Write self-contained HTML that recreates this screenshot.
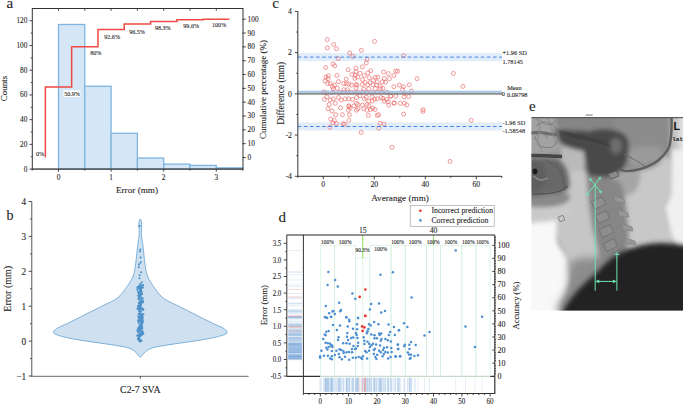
<!DOCTYPE html>
<html><head><meta charset="utf-8"><style>
html,body{margin:0;padding:0;background:#fff;width:685px;height:405px;overflow:hidden;}
svg{display:block;font-family:"Liberation Serif",serif;}
svg text{stroke:#333;stroke-width:0.1px;}
</style></head><body>
<svg width="685" height="405" viewBox="0 0 685 405">
<rect width="685" height="405" fill="#fff"/>
<rect x="58.50" y="24.49" width="26.30" height="144.61" fill="#d5e7f6" stroke="#7fb5de" stroke-width="1.3" /><rect x="84.80" y="86.29" width="26.30" height="82.81" fill="#d5e7f6" stroke="#7fb5de" stroke-width="1.3" /><rect x="111.10" y="133.26" width="26.30" height="35.84" fill="#d5e7f6" stroke="#7fb5de" stroke-width="1.3" /><rect x="137.40" y="157.98" width="26.30" height="11.12" fill="#d5e7f6" stroke="#7fb5de" stroke-width="1.3" /><rect x="163.70" y="164.16" width="26.30" height="4.94" fill="#d5e7f6" stroke="#7fb5de" stroke-width="1.3" /><rect x="190.00" y="165.39" width="26.30" height="3.71" fill="#d5e7f6" stroke="#7fb5de" stroke-width="1.3" /><rect x="216.30" y="167.86" width="26.30" height="1.24" fill="#d5e7f6" stroke="#7fb5de" stroke-width="1.3" /><path d="M45.35,157.50 L45.35,87.11 L71.65,87.11 L71.65,46.86 L97.95,46.86 L97.95,29.43 L124.25,29.43 L124.25,24.04 L150.55,24.04 L150.55,21.55 L176.85,21.55 L176.85,19.75 L203.15,19.75 L203.15,19.20 L229.45,19.20" fill="none" stroke="#ee4a43" stroke-width="1.5"/><rect x="32.30" y="8.50" width="210.70" height="160.60" fill="none" stroke="#333" stroke-width="1" /><line x1="31.70" y1="169.10" x2="243.60" y2="169.10" stroke="#5e5e5e" stroke-width="1.3" /><line x1="29.50" y1="169.10" x2="32.30" y2="169.10" stroke="#333" stroke-width="0.9" /><text x="27.40" y="171.58" font-size="7.3" text-anchor="end" fill="#222" font-family="Liberation Serif" font-weight="normal" >0</text><line x1="30.70" y1="156.74" x2="32.30" y2="156.74" stroke="#333" stroke-width="0.9" /><line x1="29.50" y1="144.38" x2="32.30" y2="144.38" stroke="#333" stroke-width="0.9" /><text x="27.40" y="146.86" font-size="7.3" text-anchor="end" fill="#222" font-family="Liberation Serif" font-weight="normal" >20</text><line x1="30.70" y1="132.02" x2="32.30" y2="132.02" stroke="#333" stroke-width="0.9" /><line x1="29.50" y1="119.66" x2="32.30" y2="119.66" stroke="#333" stroke-width="0.9" /><text x="27.40" y="122.14" font-size="7.3" text-anchor="end" fill="#222" font-family="Liberation Serif" font-weight="normal" >40</text><line x1="30.70" y1="107.30" x2="32.30" y2="107.30" stroke="#333" stroke-width="0.9" /><line x1="29.50" y1="94.94" x2="32.30" y2="94.94" stroke="#333" stroke-width="0.9" /><text x="27.40" y="97.42" font-size="7.3" text-anchor="end" fill="#222" font-family="Liberation Serif" font-weight="normal" >60</text><line x1="30.70" y1="82.58" x2="32.30" y2="82.58" stroke="#333" stroke-width="0.9" /><line x1="29.50" y1="70.22" x2="32.30" y2="70.22" stroke="#333" stroke-width="0.9" /><text x="27.40" y="72.70" font-size="7.3" text-anchor="end" fill="#222" font-family="Liberation Serif" font-weight="normal" >80</text><line x1="30.70" y1="57.86" x2="32.30" y2="57.86" stroke="#333" stroke-width="0.9" /><line x1="29.50" y1="45.50" x2="32.30" y2="45.50" stroke="#333" stroke-width="0.9" /><text x="27.40" y="47.98" font-size="7.3" text-anchor="end" fill="#222" font-family="Liberation Serif" font-weight="normal" >100</text><line x1="30.70" y1="33.14" x2="32.30" y2="33.14" stroke="#333" stroke-width="0.9" /><line x1="29.50" y1="20.78" x2="32.30" y2="20.78" stroke="#333" stroke-width="0.9" /><text x="27.40" y="23.26" font-size="7.3" text-anchor="end" fill="#222" font-family="Liberation Serif" font-weight="normal" >120</text><line x1="32.20" y1="169.10" x2="32.20" y2="170.60" stroke="#333" stroke-width="0.9" /><line x1="58.50" y1="169.10" x2="58.50" y2="171.70" stroke="#333" stroke-width="0.9" /><text x="58.50" y="179.98" font-size="7.3" text-anchor="middle" fill="#222" font-family="Liberation Serif" font-weight="normal" >0</text><line x1="84.80" y1="169.10" x2="84.80" y2="170.60" stroke="#333" stroke-width="0.9" /><line x1="111.10" y1="169.10" x2="111.10" y2="171.70" stroke="#333" stroke-width="0.9" /><text x="111.10" y="179.98" font-size="7.3" text-anchor="middle" fill="#222" font-family="Liberation Serif" font-weight="normal" >1</text><line x1="137.40" y1="169.10" x2="137.40" y2="170.60" stroke="#333" stroke-width="0.9" /><line x1="163.70" y1="169.10" x2="163.70" y2="171.70" stroke="#333" stroke-width="0.9" /><text x="163.70" y="179.98" font-size="7.3" text-anchor="middle" fill="#222" font-family="Liberation Serif" font-weight="normal" >2</text><line x1="190.00" y1="169.10" x2="190.00" y2="170.60" stroke="#333" stroke-width="0.9" /><line x1="216.30" y1="169.10" x2="216.30" y2="171.70" stroke="#333" stroke-width="0.9" /><text x="216.30" y="179.98" font-size="7.3" text-anchor="middle" fill="#222" font-family="Liberation Serif" font-weight="normal" >3</text><line x1="242.60" y1="169.10" x2="242.60" y2="170.60" stroke="#333" stroke-width="0.9" /><line x1="58.50" y1="8.50" x2="58.50" y2="10.70" stroke="#333" stroke-width="0.9" /><line x1="84.80" y1="8.50" x2="84.80" y2="10.70" stroke="#333" stroke-width="0.9" /><line x1="111.10" y1="8.50" x2="111.10" y2="10.70" stroke="#333" stroke-width="0.9" /><line x1="137.40" y1="8.50" x2="137.40" y2="10.70" stroke="#333" stroke-width="0.9" /><line x1="163.70" y1="8.50" x2="163.70" y2="10.70" stroke="#333" stroke-width="0.9" /><line x1="190.00" y1="8.50" x2="190.00" y2="10.70" stroke="#333" stroke-width="0.9" /><line x1="216.30" y1="8.50" x2="216.30" y2="10.70" stroke="#333" stroke-width="0.9" /><line x1="242.40" y1="157.50" x2="245.80" y2="157.50" stroke="#333" stroke-width="0.9" /><text x="247.60" y="159.98" font-size="7.3" text-anchor="start" fill="#222" font-family="Liberation Serif" font-weight="normal" >0</text><line x1="242.40" y1="143.67" x2="245.80" y2="143.67" stroke="#333" stroke-width="0.9" /><text x="247.60" y="146.15" font-size="7.3" text-anchor="start" fill="#222" font-family="Liberation Serif" font-weight="normal" >10</text><line x1="242.40" y1="129.84" x2="245.80" y2="129.84" stroke="#333" stroke-width="0.9" /><text x="247.60" y="132.32" font-size="7.3" text-anchor="start" fill="#222" font-family="Liberation Serif" font-weight="normal" >20</text><line x1="242.40" y1="116.01" x2="245.80" y2="116.01" stroke="#333" stroke-width="0.9" /><text x="247.60" y="118.49" font-size="7.3" text-anchor="start" fill="#222" font-family="Liberation Serif" font-weight="normal" >30</text><line x1="242.40" y1="102.18" x2="245.80" y2="102.18" stroke="#333" stroke-width="0.9" /><text x="247.60" y="104.66" font-size="7.3" text-anchor="start" fill="#222" font-family="Liberation Serif" font-weight="normal" >40</text><line x1="242.40" y1="88.35" x2="245.80" y2="88.35" stroke="#333" stroke-width="0.9" /><text x="247.60" y="90.83" font-size="7.3" text-anchor="start" fill="#222" font-family="Liberation Serif" font-weight="normal" >50</text><line x1="242.40" y1="74.52" x2="245.80" y2="74.52" stroke="#333" stroke-width="0.9" /><text x="247.60" y="77.00" font-size="7.3" text-anchor="start" fill="#222" font-family="Liberation Serif" font-weight="normal" >60</text><line x1="242.40" y1="60.69" x2="245.80" y2="60.69" stroke="#333" stroke-width="0.9" /><text x="247.60" y="63.17" font-size="7.3" text-anchor="start" fill="#222" font-family="Liberation Serif" font-weight="normal" >70</text><line x1="242.40" y1="46.86" x2="245.80" y2="46.86" stroke="#333" stroke-width="0.9" /><text x="247.60" y="49.34" font-size="7.3" text-anchor="start" fill="#222" font-family="Liberation Serif" font-weight="normal" >80</text><line x1="242.40" y1="33.03" x2="245.80" y2="33.03" stroke="#333" stroke-width="0.9" /><text x="247.60" y="35.51" font-size="7.3" text-anchor="start" fill="#222" font-family="Liberation Serif" font-weight="normal" >90</text><line x1="242.40" y1="19.20" x2="245.80" y2="19.20" stroke="#333" stroke-width="0.9" /><text x="247.60" y="21.68" font-size="7.3" text-anchor="start" fill="#222" font-family="Liberation Serif" font-weight="normal" >100</text><text x="40.00" y="156.27" font-size="6.1" text-anchor="middle" fill="#222" font-family="Liberation Serif" font-weight="normal" >0%</text><rect x="63.50" y="90.20" width="17.00" height="6.80" fill="#fff" stroke="none" stroke-width="1" /><text x="72.00" y="95.67" font-size="6.1" text-anchor="middle" fill="#222" font-family="Liberation Serif" font-weight="normal" >50.9%</text><text x="95.80" y="55.17" font-size="6.1" text-anchor="middle" fill="#222" font-family="Liberation Serif" font-weight="normal" >80%</text><text x="112.10" y="39.17" font-size="6.1" text-anchor="middle" fill="#222" font-family="Liberation Serif" font-weight="normal" >92.6%</text><text x="137.00" y="33.67" font-size="6.1" text-anchor="middle" fill="#222" font-family="Liberation Serif" font-weight="normal" >96.5%</text><text x="162.80" y="29.97" font-size="6.1" text-anchor="middle" fill="#222" font-family="Liberation Serif" font-weight="normal" >98.3%</text><text x="191.20" y="28.07" font-size="6.1" text-anchor="middle" fill="#222" font-family="Liberation Serif" font-weight="normal" >99.6%</text><text x="219.10" y="26.77" font-size="6.1" text-anchor="middle" fill="#222" font-family="Liberation Serif" font-weight="normal" >100%</text><text x="137.00" y="193.39" font-size="9.2" text-anchor="middle" fill="#222" font-family="Liberation Serif" font-weight="normal" >Error (mm)</text><g transform="translate(4.80 88.50) rotate(-90)"><text x="0" y="2.34" font-size="9" text-anchor="middle" fill="#222" font-family="Liberation Serif" font-weight="normal" >Counts</text></g><g transform="translate(264.10 89.40) rotate(-90)"><text x="0" y="2.34" font-size="9" text-anchor="middle" fill="#222" font-family="Liberation Serif" font-weight="normal" >Cumulative percentage (%)</text></g><text x="6.50" y="8.20" font-size="15" text-anchor="start" fill="#222" font-family="Liberation Serif" font-weight="normal" >a</text><path d="M140.30,219.00 C140.50,219.48 141.27,220.58 141.50,221.90 C141.73,223.22 141.73,225.08 141.70,226.90 C141.67,228.72 141.27,230.83 141.30,232.80 C141.33,234.77 141.60,236.40 141.90,238.70 C142.20,241.00 142.77,243.97 143.10,246.60 C143.43,249.23 143.58,251.53 143.90,254.50 C144.22,257.47 144.58,261.43 145.00,264.40 C145.42,267.37 145.85,270.00 146.40,272.30 C146.95,274.60 147.48,276.40 148.30,278.20 C149.12,280.00 150.38,281.65 151.30,283.10 C152.22,284.55 152.38,284.95 153.80,286.90 C155.22,288.85 157.82,292.65 159.80,294.80 C161.78,296.95 163.40,298.32 165.70,299.80 C168.00,301.28 170.30,302.07 173.60,303.70 C176.90,305.33 181.22,307.45 185.50,309.60 C189.78,311.75 194.70,314.28 199.30,316.60 C203.90,318.92 209.15,321.60 213.10,323.50 C217.05,325.40 220.68,326.62 223.00,328.00 C225.32,329.38 226.67,330.75 227.00,331.80 C227.33,332.85 226.98,333.38 225.00,334.30 C223.02,335.22 219.38,336.30 215.10,337.30 C210.82,338.30 205.23,339.32 199.30,340.30 C193.37,341.28 186.08,342.22 179.50,343.20 C172.92,344.18 164.73,345.27 159.80,346.20 C154.87,347.13 152.53,347.65 149.90,348.80 C147.27,349.95 145.60,351.72 144.00,353.10 C142.40,354.48 141.53,357.10 140.30,357.10 C139.07,357.10 138.20,354.48 136.60,353.10 C135.00,351.72 133.33,349.95 130.70,348.80 C128.07,347.65 125.73,347.13 120.80,346.20 C115.87,345.27 107.68,344.18 101.10,343.20 C94.52,342.22 87.23,341.28 81.30,340.30 C75.37,339.32 69.78,338.30 65.50,337.30 C61.22,336.30 57.58,335.22 55.60,334.30 C53.62,333.38 53.27,332.85 53.60,331.80 C53.93,330.75 55.28,329.38 57.60,328.00 C59.92,326.62 63.55,325.40 67.50,323.50 C71.45,321.60 76.70,318.92 81.30,316.60 C85.90,314.28 90.82,311.75 95.10,309.60 C99.38,307.45 103.70,305.33 107.00,303.70 C110.30,302.07 112.60,301.28 114.90,299.80 C117.20,298.32 118.82,296.95 120.80,294.80 C122.78,292.65 125.38,288.85 126.80,286.90 C128.22,284.95 128.38,284.55 129.30,283.10 C130.22,281.65 131.48,280.00 132.30,278.20 C133.12,276.40 133.65,274.60 134.20,272.30 C134.75,270.00 135.18,267.37 135.60,264.40 C136.02,261.43 136.38,257.47 136.70,254.50 C137.02,251.53 137.17,249.23 137.50,246.60 C137.83,243.97 138.40,241.00 138.70,238.70 C139.00,236.40 139.27,234.77 139.30,232.80 C139.33,230.83 138.93,228.72 138.90,226.90 C138.87,225.08 138.87,223.22 139.10,221.90 C139.33,220.58 140.10,219.48 140.30,219.00 Z" fill="#cfe1f1" stroke="#5f9fd2" stroke-width="0.8"/><circle cx="139.51" cy="225.90" r="1.05" fill="#4a8cc4"/><circle cx="140.43" cy="249.60" r="1.05" fill="#4a8cc4"/><circle cx="139.91" cy="251.50" r="1.05" fill="#4a8cc4"/><circle cx="140.61" cy="257.50" r="1.05" fill="#4a8cc4"/><circle cx="140.68" cy="262.40" r="1.05" fill="#4a8cc4"/><circle cx="139.00" cy="264.40" r="1.05" fill="#4a8cc4"/><circle cx="138.84" cy="267.30" r="1.05" fill="#4a8cc4"/><circle cx="141.31" cy="272.30" r="1.05" fill="#4a8cc4"/><circle cx="139.58" cy="275.20" r="1.05" fill="#4a8cc4"/><circle cx="139.50" cy="278.20" r="1.05" fill="#4a8cc4"/><circle cx="141.79" cy="282.20" r="1.05" fill="#4a8cc4"/><circle cx="140.21" cy="284.10" r="1.05" fill="#4a8cc4"/><circle cx="138.32" cy="332.26" r="1.15" fill="#5092c9"/><circle cx="140.60" cy="293.51" r="1.15" fill="#5092c9"/><circle cx="141.45" cy="320.87" r="1.15" fill="#5092c9"/><circle cx="139.04" cy="326.88" r="1.15" fill="#5092c9"/><circle cx="142.47" cy="322.93" r="1.15" fill="#5092c9"/><circle cx="141.22" cy="318.40" r="1.15" fill="#5092c9"/><circle cx="143.05" cy="302.02" r="1.15" fill="#5092c9"/><circle cx="140.84" cy="311.71" r="1.15" fill="#5092c9"/><circle cx="141.90" cy="325.61" r="1.15" fill="#5092c9"/><circle cx="138.77" cy="337.04" r="1.15" fill="#5092c9"/><circle cx="140.78" cy="307.32" r="1.15" fill="#5092c9"/><circle cx="138.86" cy="337.86" r="1.15" fill="#5092c9"/><circle cx="140.92" cy="334.66" r="1.15" fill="#5092c9"/><circle cx="140.74" cy="297.26" r="1.15" fill="#5092c9"/><circle cx="138.49" cy="339.55" r="1.15" fill="#5092c9"/><circle cx="141.07" cy="302.01" r="1.15" fill="#5092c9"/><circle cx="139.32" cy="313.66" r="1.15" fill="#5092c9"/><circle cx="141.16" cy="318.06" r="1.15" fill="#5092c9"/><circle cx="142.05" cy="318.01" r="1.15" fill="#5092c9"/><circle cx="139.10" cy="337.49" r="1.15" fill="#5092c9"/><circle cx="142.38" cy="333.39" r="1.15" fill="#5092c9"/><circle cx="140.18" cy="294.22" r="1.15" fill="#5092c9"/><circle cx="143.26" cy="333.63" r="1.15" fill="#5092c9"/><circle cx="139.63" cy="317.15" r="1.15" fill="#5092c9"/><circle cx="140.94" cy="325.33" r="1.15" fill="#5092c9"/><circle cx="142.86" cy="317.40" r="1.15" fill="#5092c9"/><circle cx="142.83" cy="301.10" r="1.15" fill="#5092c9"/><circle cx="141.37" cy="340.92" r="1.15" fill="#5092c9"/><circle cx="140.75" cy="290.00" r="1.15" fill="#5092c9"/><circle cx="138.93" cy="293.52" r="1.15" fill="#5092c9"/><circle cx="140.63" cy="301.60" r="1.15" fill="#5092c9"/><circle cx="137.48" cy="287.50" r="1.15" fill="#5092c9"/><circle cx="142.44" cy="319.72" r="1.15" fill="#5092c9"/><circle cx="140.92" cy="303.70" r="1.15" fill="#5092c9"/><circle cx="141.95" cy="334.77" r="1.15" fill="#5092c9"/><circle cx="140.10" cy="341.42" r="1.15" fill="#5092c9"/><circle cx="141.98" cy="302.50" r="1.15" fill="#5092c9"/><circle cx="141.18" cy="286.77" r="1.15" fill="#5092c9"/><circle cx="138.69" cy="296.15" r="1.15" fill="#5092c9"/><circle cx="141.35" cy="293.83" r="1.15" fill="#5092c9"/><circle cx="141.12" cy="287.40" r="1.15" fill="#5092c9"/><circle cx="139.40" cy="339.16" r="1.15" fill="#5092c9"/><circle cx="139.18" cy="335.66" r="1.15" fill="#5092c9"/><circle cx="141.38" cy="314.38" r="1.15" fill="#5092c9"/><circle cx="138.82" cy="321.38" r="1.15" fill="#5092c9"/><circle cx="139.29" cy="320.04" r="1.15" fill="#5092c9"/><circle cx="138.81" cy="338.15" r="1.15" fill="#5092c9"/><circle cx="140.23" cy="325.70" r="1.15" fill="#5092c9"/><circle cx="139.08" cy="298.43" r="1.15" fill="#5092c9"/><circle cx="143.30" cy="314.44" r="1.15" fill="#5092c9"/><circle cx="141.75" cy="315.99" r="1.15" fill="#5092c9"/><circle cx="140.40" cy="317.77" r="1.15" fill="#5092c9"/><circle cx="138.82" cy="286.13" r="1.15" fill="#5092c9"/><circle cx="138.98" cy="288.39" r="1.15" fill="#5092c9"/><circle cx="138.24" cy="320.44" r="1.15" fill="#5092c9"/><circle cx="140.74" cy="304.92" r="1.15" fill="#5092c9"/><circle cx="140.28" cy="324.94" r="1.15" fill="#5092c9"/><circle cx="140.00" cy="288.42" r="1.15" fill="#5092c9"/><circle cx="141.34" cy="323.20" r="1.15" fill="#5092c9"/><circle cx="140.06" cy="310.78" r="1.15" fill="#5092c9"/><circle cx="139.73" cy="318.49" r="1.15" fill="#5092c9"/><circle cx="141.50" cy="302.67" r="1.15" fill="#5092c9"/><circle cx="139.32" cy="305.86" r="1.15" fill="#5092c9"/><circle cx="139.63" cy="306.31" r="1.15" fill="#5092c9"/><circle cx="142.09" cy="328.63" r="1.15" fill="#5092c9"/><circle cx="140.61" cy="326.54" r="1.15" fill="#5092c9"/><circle cx="140.73" cy="302.52" r="1.15" fill="#5092c9"/><circle cx="142.79" cy="298.49" r="1.15" fill="#5092c9"/><circle cx="138.31" cy="295.59" r="1.15" fill="#5092c9"/><circle cx="141.16" cy="290.75" r="1.15" fill="#5092c9"/><circle cx="138.97" cy="303.19" r="1.15" fill="#5092c9"/><circle cx="142.59" cy="309.77" r="1.15" fill="#5092c9"/><circle cx="140.92" cy="333.34" r="1.15" fill="#5092c9"/><circle cx="141.41" cy="321.74" r="1.15" fill="#5092c9"/><circle cx="139.35" cy="335.00" r="1.15" fill="#5092c9"/><circle cx="140.60" cy="291.83" r="1.15" fill="#5092c9"/><circle cx="141.22" cy="314.92" r="1.15" fill="#5092c9"/><circle cx="142.66" cy="332.37" r="1.15" fill="#5092c9"/><circle cx="139.85" cy="295.37" r="1.15" fill="#5092c9"/><circle cx="142.80" cy="321.27" r="1.15" fill="#5092c9"/><circle cx="139.88" cy="330.55" r="1.15" fill="#5092c9"/><circle cx="140.91" cy="301.49" r="1.15" fill="#5092c9"/><circle cx="140.13" cy="329.85" r="1.15" fill="#5092c9"/><circle cx="141.58" cy="308.56" r="1.15" fill="#5092c9"/><circle cx="137.64" cy="308.72" r="1.15" fill="#5092c9"/><circle cx="142.00" cy="293.81" r="1.15" fill="#5092c9"/><circle cx="143.00" cy="285.26" r="1.15" fill="#5092c9"/><circle cx="139.29" cy="340.76" r="1.15" fill="#5092c9"/><circle cx="143.30" cy="309.54" r="1.15" fill="#5092c9"/><circle cx="139.31" cy="297.55" r="1.15" fill="#5092c9"/><circle cx="141.37" cy="327.12" r="1.15" fill="#5092c9"/><circle cx="138.53" cy="314.32" r="1.15" fill="#5092c9"/><circle cx="139.76" cy="301.33" r="1.15" fill="#5092c9"/><circle cx="141.15" cy="288.85" r="1.15" fill="#5092c9"/><circle cx="139.71" cy="318.26" r="1.15" fill="#5092c9"/><circle cx="142.78" cy="287.55" r="1.15" fill="#5092c9"/><circle cx="139.20" cy="336.05" r="1.15" fill="#5092c9"/><circle cx="137.32" cy="335.66" r="1.15" fill="#5092c9"/><circle cx="140.10" cy="335.83" r="1.15" fill="#5092c9"/><circle cx="140.19" cy="327.11" r="1.15" fill="#5092c9"/><circle cx="139.66" cy="294.71" r="1.15" fill="#5092c9"/><circle cx="142.26" cy="314.66" r="1.15" fill="#5092c9"/><circle cx="142.09" cy="308.38" r="1.15" fill="#5092c9"/><circle cx="139.58" cy="304.29" r="1.15" fill="#5092c9"/><circle cx="141.33" cy="299.26" r="1.15" fill="#5092c9"/><circle cx="139.08" cy="329.20" r="1.15" fill="#5092c9"/><circle cx="140.86" cy="304.88" r="1.15" fill="#5092c9"/><circle cx="141.94" cy="331.15" r="1.15" fill="#5092c9"/><circle cx="141.12" cy="294.68" r="1.15" fill="#5092c9"/><circle cx="137.30" cy="330.54" r="1.15" fill="#5092c9"/><circle cx="142.27" cy="331.53" r="1.15" fill="#5092c9"/><circle cx="140.39" cy="333.73" r="1.15" fill="#5092c9"/><circle cx="140.15" cy="287.82" r="1.15" fill="#5092c9"/><circle cx="141.40" cy="314.79" r="1.15" fill="#5092c9"/><circle cx="137.91" cy="308.90" r="1.15" fill="#5092c9"/><circle cx="140.71" cy="285.10" r="1.15" fill="#5092c9"/><circle cx="140.80" cy="288.10" r="1.15" fill="#5092c9"/><circle cx="140.82" cy="288.87" r="1.15" fill="#5092c9"/><circle cx="140.66" cy="340.07" r="1.15" fill="#5092c9"/><circle cx="139.83" cy="313.37" r="1.15" fill="#5092c9"/><circle cx="139.79" cy="302.85" r="1.15" fill="#5092c9"/><circle cx="141.50" cy="321.55" r="1.15" fill="#5092c9"/><circle cx="139.72" cy="318.14" r="1.15" fill="#5092c9"/><circle cx="141.00" cy="303.58" r="1.15" fill="#5092c9"/><circle cx="138.21" cy="291.99" r="1.15" fill="#5092c9"/><circle cx="139.54" cy="306.48" r="1.15" fill="#5092c9"/><circle cx="140.89" cy="289.51" r="1.15" fill="#5092c9"/><circle cx="141.52" cy="319.15" r="1.15" fill="#5092c9"/><circle cx="138.46" cy="329.22" r="1.15" fill="#5092c9"/><circle cx="142.02" cy="320.20" r="1.15" fill="#5092c9"/><circle cx="139.16" cy="309.39" r="1.15" fill="#5092c9"/><circle cx="141.48" cy="324.71" r="1.15" fill="#5092c9"/><circle cx="139.76" cy="308.76" r="1.15" fill="#5092c9"/><circle cx="138.84" cy="298.85" r="1.15" fill="#5092c9"/><circle cx="140.12" cy="315.27" r="1.15" fill="#5092c9"/><circle cx="139.79" cy="309.01" r="1.15" fill="#5092c9"/><circle cx="142.69" cy="309.06" r="1.15" fill="#5092c9"/><circle cx="138.04" cy="306.14" r="1.15" fill="#5092c9"/><circle cx="140.58" cy="335.73" r="1.15" fill="#5092c9"/><circle cx="139.24" cy="311.22" r="1.15" fill="#5092c9"/><circle cx="141.10" cy="291.96" r="1.15" fill="#5092c9"/><circle cx="138.40" cy="335.13" r="1.15" fill="#5092c9"/><circle cx="139.17" cy="329.77" r="1.15" fill="#5092c9"/><circle cx="138.32" cy="316.86" r="1.15" fill="#5092c9"/><circle cx="140.18" cy="290.83" r="1.15" fill="#5092c9"/><circle cx="140.23" cy="293.11" r="1.15" fill="#5092c9"/><circle cx="140.89" cy="328.75" r="1.15" fill="#5092c9"/><circle cx="140.47" cy="290.61" r="1.15" fill="#5092c9"/><circle cx="140.43" cy="334.75" r="1.15" fill="#5092c9"/><circle cx="140.58" cy="332.55" r="1.15" fill="#5092c9"/><circle cx="141.47" cy="291.85" r="1.15" fill="#5092c9"/><circle cx="138.56" cy="332.24" r="1.15" fill="#5092c9"/><circle cx="138.10" cy="338.81" r="1.15" fill="#5092c9"/><circle cx="139.11" cy="287.05" r="1.15" fill="#5092c9"/><circle cx="138.09" cy="328.36" r="1.15" fill="#5092c9"/><circle cx="140.14" cy="291.03" r="1.15" fill="#5092c9"/><circle cx="140.76" cy="327.32" r="1.15" fill="#5092c9"/><circle cx="140.10" cy="303.32" r="1.15" fill="#5092c9"/><circle cx="140.79" cy="316.86" r="1.15" fill="#5092c9"/><circle cx="139.38" cy="295.16" r="1.15" fill="#5092c9"/><circle cx="138.55" cy="299.12" r="1.15" fill="#5092c9"/><circle cx="138.74" cy="307.25" r="1.15" fill="#5092c9"/><circle cx="139.26" cy="305.76" r="1.15" fill="#5092c9"/><circle cx="141.09" cy="308.63" r="1.15" fill="#5092c9"/><circle cx="137.30" cy="289.70" r="1.15" fill="#5092c9"/><circle cx="140.29" cy="308.32" r="1.15" fill="#5092c9"/><circle cx="141.44" cy="327.23" r="1.15" fill="#5092c9"/><circle cx="142.12" cy="327.72" r="1.15" fill="#5092c9"/><circle cx="138.70" cy="323.07" r="1.15" fill="#5092c9"/><circle cx="140.13" cy="321.33" r="1.15" fill="#5092c9"/><line x1="31.70" y1="201.50" x2="31.70" y2="377.10" stroke="#858585" stroke-width="1.4" /><line x1="31.00" y1="376.40" x2="248.60" y2="376.40" stroke="#858585" stroke-width="1.4" /><line x1="28.70" y1="376.00" x2="31.70" y2="376.00" stroke="#333" stroke-width="0.9" /><text x="26.20" y="379.86" font-size="9.3" text-anchor="end" fill="#222" font-family="Liberation Serif" font-weight="normal" >−1</text><line x1="30.10" y1="358.55" x2="31.70" y2="358.55" stroke="#333" stroke-width="0.9" /><line x1="28.70" y1="341.10" x2="31.70" y2="341.10" stroke="#333" stroke-width="0.9" /><text x="26.20" y="344.96" font-size="9.3" text-anchor="end" fill="#222" font-family="Liberation Serif" font-weight="normal" >0</text><line x1="30.10" y1="323.65" x2="31.70" y2="323.65" stroke="#333" stroke-width="0.9" /><line x1="28.70" y1="306.20" x2="31.70" y2="306.20" stroke="#333" stroke-width="0.9" /><text x="26.20" y="310.06" font-size="9.3" text-anchor="end" fill="#222" font-family="Liberation Serif" font-weight="normal" >1</text><line x1="30.10" y1="288.75" x2="31.70" y2="288.75" stroke="#333" stroke-width="0.9" /><line x1="28.70" y1="271.30" x2="31.70" y2="271.30" stroke="#333" stroke-width="0.9" /><text x="26.20" y="275.16" font-size="9.3" text-anchor="end" fill="#222" font-family="Liberation Serif" font-weight="normal" >2</text><line x1="30.10" y1="253.85" x2="31.70" y2="253.85" stroke="#333" stroke-width="0.9" /><line x1="28.70" y1="236.40" x2="31.70" y2="236.40" stroke="#333" stroke-width="0.9" /><text x="26.20" y="240.26" font-size="9.3" text-anchor="end" fill="#222" font-family="Liberation Serif" font-weight="normal" >3</text><line x1="30.10" y1="218.95" x2="31.70" y2="218.95" stroke="#333" stroke-width="0.9" /><line x1="28.70" y1="201.50" x2="31.70" y2="201.50" stroke="#333" stroke-width="0.9" /><text x="26.20" y="205.36" font-size="9.3" text-anchor="end" fill="#222" font-family="Liberation Serif" font-weight="normal" >4</text><line x1="140.30" y1="376.40" x2="140.30" y2="378.60" stroke="#333" stroke-width="0.9" /><text x="140.30" y="392.63" font-size="9.8" text-anchor="middle" fill="#222" font-family="Liberation Serif" font-weight="normal" >C2-7 SVA</text><g transform="translate(8.30 288.80) rotate(-90)"><text x="0" y="2.60" font-size="10" text-anchor="middle" fill="#222" font-family="Liberation Serif" font-weight="normal" >Error (mm)</text></g><text x="6.50" y="220.20" font-size="14" text-anchor="start" fill="#222" font-family="Liberation Serif" font-weight="normal" >b</text><rect x="297.80" y="53.10" width="204.20" height="8.10" fill="#e2edfa" stroke="none" stroke-width="1" /><rect x="297.80" y="122.50" width="204.20" height="8.00" fill="#e2edfa" stroke="none" stroke-width="1" /><g fill="none" stroke="#ec6464" stroke-width="0.65"><circle cx="327.30" cy="39.60" r="2.0"/><circle cx="333.70" cy="44.40" r="2.0"/><circle cx="327.30" cy="47.80" r="2.0"/><circle cx="336.50" cy="48.80" r="2.0"/><circle cx="374.60" cy="41.40" r="2.0"/><circle cx="361.40" cy="50.30" r="2.0"/><circle cx="349.70" cy="53.00" r="2.0"/><circle cx="352.90" cy="56.40" r="2.0"/><circle cx="338.10" cy="58.60" r="2.0"/><circle cx="367.10" cy="59.30" r="2.0"/><circle cx="403.60" cy="55.70" r="2.0"/><circle cx="333.10" cy="63.90" r="2.0"/><circle cx="334.70" cy="65.90" r="2.0"/><circle cx="325.70" cy="67.50" r="2.0"/><circle cx="348.20" cy="69.70" r="2.0"/><circle cx="355.90" cy="68.10" r="2.0"/><circle cx="336.90" cy="75.50" r="2.0"/><circle cx="328.30" cy="75.80" r="2.0"/><circle cx="326.00" cy="77.10" r="2.0"/><circle cx="328.00" cy="78.70" r="2.0"/><circle cx="325.10" cy="80.90" r="2.0"/><circle cx="327.60" cy="83.50" r="2.0"/><circle cx="330.20" cy="83.50" r="2.0"/><circle cx="334.40" cy="85.10" r="2.0"/><circle cx="332.40" cy="86.70" r="2.0"/><circle cx="338.50" cy="81.60" r="2.0"/><circle cx="346.20" cy="79.00" r="2.0"/><circle cx="343.70" cy="83.50" r="2.0"/><circle cx="346.20" cy="83.80" r="2.0"/><circle cx="348.80" cy="83.80" r="2.0"/><circle cx="352.00" cy="74.50" r="2.0"/><circle cx="355.20" cy="75.20" r="2.0"/><circle cx="354.90" cy="78.40" r="2.0"/><circle cx="355.90" cy="71.60" r="2.0"/><circle cx="351.40" cy="85.10" r="2.0"/><circle cx="355.90" cy="84.50" r="2.0"/><circle cx="366.30" cy="63.00" r="2.0"/><circle cx="362.40" cy="66.80" r="2.0"/><circle cx="370.80" cy="70.70" r="2.0"/><circle cx="367.90" cy="72.90" r="2.0"/><circle cx="359.90" cy="73.20" r="2.0"/><circle cx="364.30" cy="75.50" r="2.0"/><circle cx="357.60" cy="77.10" r="2.0"/><circle cx="383.60" cy="72.00" r="2.0"/><circle cx="388.40" cy="73.60" r="2.0"/><circle cx="393.90" cy="75.50" r="2.0"/><circle cx="395.80" cy="71.00" r="2.0"/><circle cx="369.20" cy="77.70" r="2.0"/><circle cx="373.30" cy="80.30" r="2.0"/><circle cx="377.80" cy="77.10" r="2.0"/><circle cx="375.30" cy="77.40" r="2.0"/><circle cx="384.30" cy="78.40" r="2.0"/><circle cx="389.40" cy="78.70" r="2.0"/><circle cx="362.40" cy="79.70" r="2.0"/><circle cx="365.00" cy="82.50" r="2.0"/><circle cx="370.10" cy="82.50" r="2.0"/><circle cx="377.20" cy="81.90" r="2.0"/><circle cx="382.30" cy="81.90" r="2.0"/><circle cx="385.50" cy="82.20" r="2.0"/><circle cx="362.40" cy="84.50" r="2.0"/><circle cx="367.60" cy="84.80" r="2.0"/><circle cx="373.00" cy="84.80" r="2.0"/><circle cx="380.10" cy="86.10" r="2.0"/><circle cx="357.00" cy="85.10" r="2.0"/><circle cx="393.90" cy="86.70" r="2.0"/><circle cx="376.50" cy="85.10" r="2.0"/><circle cx="337.30" cy="88.20" r="2.0"/><circle cx="333.40" cy="88.80" r="2.0"/><circle cx="355.90" cy="87.90" r="2.0"/><circle cx="343.70" cy="89.80" r="2.0"/><circle cx="347.50" cy="89.80" r="2.0"/><circle cx="323.50" cy="92.00" r="2.0"/><circle cx="326.30" cy="92.70" r="2.0"/><circle cx="332.80" cy="92.30" r="2.0"/><circle cx="339.20" cy="92.30" r="2.0"/><circle cx="343.00" cy="92.30" r="2.0"/><circle cx="347.50" cy="92.30" r="2.0"/><circle cx="351.40" cy="92.30" r="2.0"/><circle cx="355.20" cy="92.30" r="2.0"/><circle cx="324.40" cy="99.40" r="2.0"/><circle cx="327.00" cy="96.80" r="2.0"/><circle cx="330.20" cy="100.00" r="2.0"/><circle cx="333.40" cy="98.80" r="2.0"/><circle cx="335.30" cy="103.30" r="2.0"/><circle cx="329.20" cy="104.50" r="2.0"/><circle cx="328.00" cy="108.70" r="2.0"/><circle cx="338.50" cy="97.50" r="2.0"/><circle cx="341.10" cy="100.00" r="2.0"/><circle cx="345.00" cy="98.80" r="2.0"/><circle cx="348.80" cy="98.80" r="2.0"/><circle cx="352.70" cy="99.40" r="2.0"/><circle cx="356.50" cy="97.50" r="2.0"/><circle cx="340.50" cy="107.80" r="2.0"/><circle cx="348.80" cy="105.80" r="2.0"/><circle cx="350.10" cy="108.10" r="2.0"/><circle cx="354.00" cy="105.80" r="2.0"/><circle cx="356.50" cy="103.30" r="2.0"/><circle cx="380.40" cy="88.50" r="2.0"/><circle cx="383.00" cy="88.50" r="2.0"/><circle cx="375.30" cy="88.50" r="2.0"/><circle cx="363.70" cy="89.10" r="2.0"/><circle cx="368.80" cy="88.80" r="2.0"/><circle cx="357.90" cy="92.30" r="2.0"/><circle cx="362.40" cy="92.00" r="2.0"/><circle cx="366.90" cy="92.30" r="2.0"/><circle cx="372.70" cy="92.30" r="2.0"/><circle cx="377.20" cy="92.30" r="2.0"/><circle cx="381.70" cy="92.00" r="2.0"/><circle cx="386.80" cy="92.30" r="2.0"/><circle cx="359.90" cy="95.90" r="2.0"/><circle cx="364.30" cy="98.80" r="2.0"/><circle cx="366.30" cy="97.20" r="2.0"/><circle cx="372.10" cy="96.80" r="2.0"/><circle cx="374.60" cy="99.10" r="2.0"/><circle cx="377.20" cy="98.80" r="2.0"/><circle cx="381.00" cy="97.50" r="2.0"/><circle cx="383.00" cy="98.40" r="2.0"/><circle cx="386.80" cy="99.40" r="2.0"/><circle cx="390.70" cy="95.90" r="2.0"/><circle cx="384.30" cy="101.30" r="2.0"/><circle cx="388.10" cy="101.70" r="2.0"/><circle cx="393.90" cy="102.90" r="2.0"/><circle cx="368.80" cy="101.30" r="2.0"/><circle cx="372.10" cy="101.00" r="2.0"/><circle cx="357.90" cy="104.50" r="2.0"/><circle cx="362.40" cy="105.20" r="2.0"/><circle cx="366.90" cy="104.50" r="2.0"/><circle cx="368.80" cy="105.80" r="2.0"/><circle cx="372.70" cy="108.10" r="2.0"/><circle cx="388.70" cy="105.20" r="2.0"/><circle cx="357.90" cy="108.70" r="2.0"/><circle cx="363.70" cy="108.70" r="2.0"/><circle cx="397.70" cy="71.30" r="2.0"/><circle cx="417.00" cy="78.70" r="2.0"/><circle cx="409.30" cy="84.80" r="2.0"/><circle cx="399.30" cy="85.10" r="2.0"/><circle cx="403.50" cy="86.70" r="2.0"/><circle cx="402.50" cy="89.50" r="2.0"/><circle cx="411.50" cy="91.10" r="2.0"/><circle cx="404.40" cy="93.30" r="2.0"/><circle cx="395.80" cy="96.20" r="2.0"/><circle cx="404.10" cy="96.80" r="2.0"/><circle cx="408.60" cy="96.50" r="2.0"/><circle cx="390.60" cy="96.20" r="2.0"/><circle cx="394.20" cy="103.30" r="2.0"/><circle cx="400.30" cy="103.30" r="2.0"/><circle cx="404.40" cy="103.30" r="2.0"/><circle cx="406.70" cy="104.90" r="2.0"/><circle cx="423.00" cy="109.70" r="2.0"/><circle cx="453.40" cy="73.40" r="2.0"/><circle cx="462.90" cy="86.40" r="2.0"/><circle cx="332.00" cy="111.00" r="2.0"/><circle cx="335.70" cy="114.70" r="2.0"/><circle cx="330.60" cy="119.10" r="2.0"/><circle cx="334.30" cy="120.30" r="2.0"/><circle cx="332.80" cy="122.80" r="2.0"/><circle cx="336.50" cy="123.60" r="2.0"/><circle cx="329.80" cy="127.30" r="2.0"/><circle cx="342.40" cy="114.70" r="2.0"/><circle cx="343.10" cy="123.60" r="2.0"/><circle cx="344.60" cy="124.30" r="2.0"/><circle cx="348.80" cy="120.30" r="2.0"/><circle cx="349.40" cy="114.70" r="2.0"/><circle cx="348.30" cy="110.20" r="2.0"/><circle cx="356.50" cy="110.20" r="2.0"/><circle cx="366.90" cy="110.20" r="2.0"/><circle cx="370.60" cy="109.50" r="2.0"/><circle cx="368.30" cy="115.40" r="2.0"/><circle cx="375.00" cy="109.50" r="2.0"/><circle cx="377.20" cy="115.40" r="2.0"/><circle cx="378.70" cy="114.70" r="2.0"/><circle cx="380.20" cy="123.30" r="2.0"/><circle cx="383.90" cy="124.00" r="2.0"/><circle cx="378.70" cy="128.30" r="2.0"/><circle cx="361.20" cy="132.40" r="2.0"/><circle cx="392.00" cy="147.30" r="2.0"/><circle cx="422.90" cy="111.40" r="2.0"/><circle cx="403.60" cy="114.10" r="2.0"/><circle cx="471.30" cy="120.40" r="2.0"/><circle cx="450.10" cy="161.40" r="2.0"/><circle cx="349.10" cy="106.50" r="2.0"/></g><line x1="297.80" y1="57.10" x2="502.00" y2="57.10" stroke="#4585ea" stroke-width="1.0" stroke-dasharray="3.6 2.5"/><line x1="297.80" y1="126.50" x2="502.00" y2="126.50" stroke="#4585ea" stroke-width="1.0" stroke-dasharray="3.6 2.5"/><rect x="297.80" y="90.70" width="204.20" height="2.00" fill="#94bdf0" stroke="none" stroke-width="1" fill-opacity="0.8"/><line x1="297.80" y1="93.70" x2="502.00" y2="93.70" stroke="#7a7a7a" stroke-width="2.0" stroke-opacity="0.85"/><line x1="297.80" y1="11.00" x2="297.80" y2="176.30" stroke="#555" stroke-width="1.2" /><line x1="297.80" y1="176.30" x2="502.00" y2="176.30" stroke="#555" stroke-width="1.2" /><line x1="294.80" y1="176.29" x2="297.80" y2="176.29" stroke="#333" stroke-width="0.9" /><text x="292.00" y="178.94" font-size="7.8" text-anchor="end" fill="#222" font-family="Liberation Serif" font-weight="normal" >-4</text><line x1="296.20" y1="155.68" x2="297.80" y2="155.68" stroke="#333" stroke-width="0.9" /><line x1="294.80" y1="135.07" x2="297.80" y2="135.07" stroke="#333" stroke-width="0.9" /><text x="292.00" y="137.72" font-size="7.8" text-anchor="end" fill="#222" font-family="Liberation Serif" font-weight="normal" >-2</text><line x1="296.20" y1="114.46" x2="297.80" y2="114.46" stroke="#333" stroke-width="0.9" /><line x1="294.80" y1="93.85" x2="297.80" y2="93.85" stroke="#333" stroke-width="0.9" /><text x="292.00" y="96.50" font-size="7.8" text-anchor="end" fill="#222" font-family="Liberation Serif" font-weight="normal" >0</text><line x1="296.20" y1="73.24" x2="297.80" y2="73.24" stroke="#333" stroke-width="0.9" /><line x1="294.80" y1="52.63" x2="297.80" y2="52.63" stroke="#333" stroke-width="0.9" /><text x="292.00" y="55.28" font-size="7.8" text-anchor="end" fill="#222" font-family="Liberation Serif" font-weight="normal" >2</text><line x1="296.20" y1="32.02" x2="297.80" y2="32.02" stroke="#333" stroke-width="0.9" /><line x1="294.80" y1="11.41" x2="297.80" y2="11.41" stroke="#333" stroke-width="0.9" /><text x="292.00" y="14.06" font-size="7.8" text-anchor="end" fill="#222" font-family="Liberation Serif" font-weight="normal" >4</text><line x1="297.80" y1="176.30" x2="297.80" y2="177.90" stroke="#333" stroke-width="0.9" /><line x1="323.30" y1="176.30" x2="323.30" y2="179.30" stroke="#333" stroke-width="0.9" /><text x="323.30" y="187.25" font-size="7.8" text-anchor="middle" fill="#222" font-family="Liberation Serif" font-weight="normal" >0</text><line x1="348.80" y1="176.30" x2="348.80" y2="177.90" stroke="#333" stroke-width="0.9" /><line x1="374.30" y1="176.30" x2="374.30" y2="179.30" stroke="#333" stroke-width="0.9" /><text x="374.30" y="187.25" font-size="7.8" text-anchor="middle" fill="#222" font-family="Liberation Serif" font-weight="normal" >20</text><line x1="399.80" y1="176.30" x2="399.80" y2="177.90" stroke="#333" stroke-width="0.9" /><line x1="425.30" y1="176.30" x2="425.30" y2="179.30" stroke="#333" stroke-width="0.9" /><text x="425.30" y="187.25" font-size="7.8" text-anchor="middle" fill="#222" font-family="Liberation Serif" font-weight="normal" >40</text><line x1="450.80" y1="176.30" x2="450.80" y2="177.90" stroke="#333" stroke-width="0.9" /><line x1="476.30" y1="176.30" x2="476.30" y2="179.30" stroke="#333" stroke-width="0.9" /><text x="476.30" y="187.25" font-size="7.8" text-anchor="middle" fill="#222" font-family="Liberation Serif" font-weight="normal" >60</text><line x1="501.80" y1="176.30" x2="501.80" y2="177.90" stroke="#333" stroke-width="0.9" /><text x="400.00" y="200.69" font-size="9.2" text-anchor="middle" fill="#222" font-family="Liberation Serif" font-weight="normal" >Averange (mm)</text><g transform="translate(281.20 93.30) rotate(-90)"><text x="0" y="2.44" font-size="9.4" text-anchor="middle" fill="#222" font-family="Liberation Serif" font-weight="normal" >Difference (mm)</text></g><text x="502.50" y="55.14" font-size="6.3" text-anchor="start" fill="#222" font-family="Liberation Serif" font-weight="normal" >+1.96 SD</text><text x="502.50" y="63.54" font-size="6.3" text-anchor="start" fill="#222" font-family="Liberation Serif" font-weight="normal" >1.78145</text><text x="507.20" y="89.54" font-size="6.3" text-anchor="start" fill="#222" font-family="Liberation Serif" font-weight="normal" >Mean</text><text x="507.00" y="97.44" font-size="6.3" text-anchor="start" fill="#222" font-family="Liberation Serif" font-weight="normal" >0.09798</text><text x="501.80" y="95.94" font-size="6.3" text-anchor="start" fill="#222" font-family="Liberation Serif" font-weight="normal" >0</text><text x="502.50" y="124.64" font-size="6.3" text-anchor="start" fill="#222" font-family="Liberation Serif" font-weight="normal" >-1.96 SD</text><text x="502.50" y="132.84" font-size="6.3" text-anchor="start" fill="#222" font-family="Liberation Serif" font-weight="normal" >-1.58548</text><text x="272.20" y="8.30" font-size="15" text-anchor="start" fill="#222" font-family="Liberation Serif" font-weight="normal" >c</text><g stroke="#5b93d3" stroke-opacity="0.27" stroke-width="0.6"><line x1="288.3" y1="271.90" x2="301.9" y2="271.90"/><line x1="288.3" y1="279.90" x2="301.9" y2="279.90"/><line x1="288.3" y1="285.00" x2="301.9" y2="285.00"/><line x1="288.3" y1="286.60" x2="301.9" y2="286.60"/><line x1="288.3" y1="274.70" x2="301.9" y2="274.70"/><line x1="288.3" y1="272.20" x2="301.9" y2="272.20"/><line x1="288.3" y1="293.50" x2="301.9" y2="293.50"/><line x1="288.3" y1="298.70" x2="301.9" y2="298.70"/><line x1="288.3" y1="302.80" x2="301.9" y2="302.80"/><line x1="288.3" y1="306.00" x2="301.9" y2="306.00"/><line x1="288.3" y1="304.10" x2="301.9" y2="304.10"/><line x1="288.3" y1="303.50" x2="301.9" y2="303.50"/><line x1="288.3" y1="309.60" x2="301.9" y2="309.60"/><line x1="288.3" y1="312.50" x2="301.9" y2="312.50"/><line x1="288.3" y1="310.90" x2="301.9" y2="310.90"/><line x1="288.3" y1="313.30" x2="301.9" y2="313.30"/><line x1="288.3" y1="311.50" x2="301.9" y2="311.50"/><line x1="288.3" y1="310.90" x2="301.9" y2="310.90"/><line x1="288.3" y1="313.90" x2="301.9" y2="313.90"/><line x1="288.3" y1="311.20" x2="301.9" y2="311.20"/><line x1="288.3" y1="310.10" x2="301.9" y2="310.10"/><line x1="288.3" y1="317.10" x2="301.9" y2="317.10"/><line x1="288.3" y1="317.90" x2="301.9" y2="317.90"/><line x1="288.3" y1="316.80" x2="301.9" y2="316.80"/><line x1="288.3" y1="317.30" x2="301.9" y2="317.30"/><line x1="288.3" y1="318.10" x2="301.9" y2="318.10"/><line x1="288.3" y1="319.70" x2="301.9" y2="319.70"/><line x1="288.3" y1="317.30" x2="301.9" y2="317.30"/><line x1="288.3" y1="317.80" x2="301.9" y2="317.80"/><line x1="288.3" y1="316.90" x2="301.9" y2="316.90"/><line x1="288.3" y1="317.30" x2="301.9" y2="317.30"/><line x1="288.3" y1="318.10" x2="301.9" y2="318.10"/><line x1="288.3" y1="321.20" x2="301.9" y2="321.20"/><line x1="288.3" y1="322.00" x2="301.9" y2="322.00"/><line x1="288.3" y1="324.30" x2="301.9" y2="324.30"/><line x1="288.3" y1="324.30" x2="301.9" y2="324.30"/><line x1="288.3" y1="325.60" x2="301.9" y2="325.60"/><line x1="288.3" y1="324.60" x2="301.9" y2="324.60"/><line x1="288.3" y1="327.10" x2="301.9" y2="327.10"/><line x1="288.3" y1="330.20" x2="301.9" y2="330.20"/><line x1="288.3" y1="325.10" x2="301.9" y2="325.10"/><line x1="288.3" y1="325.60" x2="301.9" y2="325.60"/><line x1="288.3" y1="326.40" x2="301.9" y2="326.40"/><line x1="288.3" y1="324.30" x2="301.9" y2="324.30"/><line x1="288.3" y1="328.70" x2="301.9" y2="328.70"/><line x1="288.3" y1="329.30" x2="301.9" y2="329.30"/><line x1="288.3" y1="329.00" x2="301.9" y2="329.00"/><line x1="288.3" y1="331.30" x2="301.9" y2="331.30"/><line x1="288.3" y1="329.90" x2="301.9" y2="329.90"/><line x1="288.3" y1="330.90" x2="301.9" y2="330.90"/><line x1="288.3" y1="331.80" x2="301.9" y2="331.80"/><line x1="288.3" y1="334.40" x2="301.9" y2="334.40"/><line x1="288.3" y1="335.20" x2="301.9" y2="335.20"/><line x1="288.3" y1="332.90" x2="301.9" y2="332.90"/><line x1="288.3" y1="332.90" x2="301.9" y2="332.90"/><line x1="288.3" y1="334.90" x2="301.9" y2="334.90"/><line x1="288.3" y1="333.20" x2="301.9" y2="333.20"/><line x1="288.3" y1="334.40" x2="301.9" y2="334.40"/><line x1="288.3" y1="335.20" x2="301.9" y2="335.20"/><line x1="288.3" y1="333.40" x2="301.9" y2="333.40"/><line x1="288.3" y1="333.40" x2="301.9" y2="333.40"/><line x1="288.3" y1="334.90" x2="301.9" y2="334.90"/><line x1="288.3" y1="332.10" x2="301.9" y2="332.10"/><line x1="288.3" y1="334.90" x2="301.9" y2="334.90"/><line x1="288.3" y1="334.90" x2="301.9" y2="334.90"/><line x1="288.3" y1="339.10" x2="301.9" y2="339.10"/><line x1="288.3" y1="337.20" x2="301.9" y2="337.20"/><line x1="288.3" y1="339.90" x2="301.9" y2="339.90"/><line x1="288.3" y1="336.80" x2="301.9" y2="336.80"/><line x1="288.3" y1="339.90" x2="301.9" y2="339.90"/><line x1="288.3" y1="338.00" x2="301.9" y2="338.00"/><line x1="288.3" y1="337.60" x2="301.9" y2="337.60"/><line x1="288.3" y1="338.00" x2="301.9" y2="338.00"/><line x1="288.3" y1="337.20" x2="301.9" y2="337.20"/><line x1="288.3" y1="340.70" x2="301.9" y2="340.70"/><line x1="288.3" y1="338.30" x2="301.9" y2="338.30"/><line x1="288.3" y1="338.30" x2="301.9" y2="338.30"/><line x1="288.3" y1="339.10" x2="301.9" y2="339.10"/><line x1="288.3" y1="340.70" x2="301.9" y2="340.70"/><line x1="288.3" y1="339.10" x2="301.9" y2="339.10"/><line x1="288.3" y1="340.20" x2="301.9" y2="340.20"/><line x1="288.3" y1="341.40" x2="301.9" y2="341.40"/><line x1="288.3" y1="342.70" x2="301.9" y2="342.70"/><line x1="288.3" y1="343.30" x2="301.9" y2="343.30"/><line x1="288.3" y1="343.80" x2="301.9" y2="343.80"/><line x1="288.3" y1="343.30" x2="301.9" y2="343.30"/><line x1="288.3" y1="343.30" x2="301.9" y2="343.30"/><line x1="288.3" y1="343.80" x2="301.9" y2="343.80"/><line x1="288.3" y1="342.70" x2="301.9" y2="342.70"/><line x1="288.3" y1="344.10" x2="301.9" y2="344.10"/><line x1="288.3" y1="341.70" x2="301.9" y2="341.70"/><line x1="288.3" y1="343.80" x2="301.9" y2="343.80"/><line x1="288.3" y1="345.30" x2="301.9" y2="345.30"/><line x1="288.3" y1="343.80" x2="301.9" y2="343.80"/><line x1="288.3" y1="344.50" x2="301.9" y2="344.50"/><line x1="288.3" y1="345.60" x2="301.9" y2="345.60"/><line x1="288.3" y1="344.50" x2="301.9" y2="344.50"/><line x1="288.3" y1="347.70" x2="301.9" y2="347.70"/><line x1="288.3" y1="346.90" x2="301.9" y2="346.90"/><line x1="288.3" y1="345.30" x2="301.9" y2="345.30"/><line x1="288.3" y1="346.90" x2="301.9" y2="346.90"/><line x1="288.3" y1="346.10" x2="301.9" y2="346.10"/><line x1="288.3" y1="346.10" x2="301.9" y2="346.10"/><line x1="288.3" y1="348.90" x2="301.9" y2="348.90"/><line x1="288.3" y1="348.40" x2="301.9" y2="348.40"/><line x1="288.3" y1="346.10" x2="301.9" y2="346.10"/><line x1="288.3" y1="346.90" x2="301.9" y2="346.90"/><line x1="288.3" y1="348.70" x2="301.9" y2="348.70"/><line x1="288.3" y1="350.00" x2="301.9" y2="350.00"/><line x1="288.3" y1="347.70" x2="301.9" y2="347.70"/><line x1="288.3" y1="350.00" x2="301.9" y2="350.00"/><line x1="288.3" y1="347.30" x2="301.9" y2="347.30"/><line x1="288.3" y1="348.10" x2="301.9" y2="348.10"/><line x1="288.3" y1="348.90" x2="301.9" y2="348.90"/><line x1="288.3" y1="350.80" x2="301.9" y2="350.80"/><line x1="288.3" y1="349.50" x2="301.9" y2="349.50"/><line x1="288.3" y1="351.10" x2="301.9" y2="351.10"/><line x1="288.3" y1="350.80" x2="301.9" y2="350.80"/><line x1="288.3" y1="349.20" x2="301.9" y2="349.20"/><line x1="288.3" y1="350.00" x2="301.9" y2="350.00"/><line x1="288.3" y1="351.10" x2="301.9" y2="351.10"/><line x1="288.3" y1="352.30" x2="301.9" y2="352.30"/><line x1="288.3" y1="352.00" x2="301.9" y2="352.00"/><line x1="288.3" y1="353.10" x2="301.9" y2="353.10"/><line x1="288.3" y1="352.30" x2="301.9" y2="352.30"/><line x1="288.3" y1="348.90" x2="301.9" y2="348.90"/><line x1="288.3" y1="351.10" x2="301.9" y2="351.10"/><line x1="288.3" y1="352.30" x2="301.9" y2="352.30"/><line x1="288.3" y1="350.80" x2="301.9" y2="350.80"/><line x1="288.3" y1="350.80" x2="301.9" y2="350.80"/><line x1="288.3" y1="352.30" x2="301.9" y2="352.30"/><line x1="288.3" y1="352.00" x2="301.9" y2="352.00"/><line x1="288.3" y1="352.60" x2="301.9" y2="352.60"/><line x1="288.3" y1="351.90" x2="301.9" y2="351.90"/><line x1="288.3" y1="356.20" x2="301.9" y2="356.20"/><line x1="288.3" y1="357.80" x2="301.9" y2="357.80"/><line x1="288.3" y1="355.70" x2="301.9" y2="355.70"/><line x1="288.3" y1="355.70" x2="301.9" y2="355.70"/><line x1="288.3" y1="356.20" x2="301.9" y2="356.20"/><line x1="288.3" y1="358.50" x2="301.9" y2="358.50"/><line x1="288.3" y1="359.30" x2="301.9" y2="359.30"/><line x1="288.3" y1="355.10" x2="301.9" y2="355.10"/><line x1="288.3" y1="353.90" x2="301.9" y2="353.90"/><line x1="288.3" y1="357.30" x2="301.9" y2="357.30"/><line x1="288.3" y1="359.30" x2="301.9" y2="359.30"/><line x1="288.3" y1="356.70" x2="301.9" y2="356.70"/><line x1="288.3" y1="359.80" x2="301.9" y2="359.80"/><line x1="288.3" y1="357.80" x2="301.9" y2="357.80"/><line x1="288.3" y1="357.80" x2="301.9" y2="357.80"/><line x1="288.3" y1="357.00" x2="301.9" y2="357.00"/><line x1="288.3" y1="357.80" x2="301.9" y2="357.80"/><line x1="288.3" y1="356.20" x2="301.9" y2="356.20"/><line x1="288.3" y1="358.90" x2="301.9" y2="358.90"/><line x1="288.3" y1="358.50" x2="301.9" y2="358.50"/><line x1="288.3" y1="357.00" x2="301.9" y2="357.00"/><line x1="288.3" y1="358.90" x2="301.9" y2="358.90"/><line x1="288.3" y1="356.20" x2="301.9" y2="356.20"/><line x1="288.3" y1="358.50" x2="301.9" y2="358.50"/><line x1="288.3" y1="357.00" x2="301.9" y2="357.00"/><line x1="288.3" y1="356.20" x2="301.9" y2="356.20"/><line x1="288.3" y1="356.20" x2="301.9" y2="356.20"/><line x1="288.3" y1="353.90" x2="301.9" y2="353.90"/><line x1="288.3" y1="354.70" x2="301.9" y2="354.70"/><line x1="288.3" y1="353.90" x2="301.9" y2="353.90"/><line x1="288.3" y1="250.60" x2="301.9" y2="250.60"/><line x1="288.3" y1="297.50" x2="301.9" y2="297.50"/><line x1="288.3" y1="323.30" x2="301.9" y2="323.30"/><line x1="288.3" y1="326.90" x2="301.9" y2="326.90"/><line x1="288.3" y1="330.30" x2="301.9" y2="330.30"/><line x1="288.3" y1="335.50" x2="301.9" y2="335.50"/><line x1="288.3" y1="331.90" x2="301.9" y2="331.90"/><line x1="288.3" y1="326.60" x2="301.9" y2="326.60"/><line x1="288.3" y1="316.80" x2="301.9" y2="316.80"/><line x1="288.3" y1="347.00" x2="301.9" y2="347.00"/><line x1="288.3" y1="342.00" x2="301.9" y2="342.00"/><line x1="288.3" y1="344.80" x2="301.9" y2="344.80"/><line x1="288.3" y1="344.80" x2="301.9" y2="344.80"/><line x1="288.3" y1="346.30" x2="301.9" y2="346.30"/><line x1="288.3" y1="344.80" x2="301.9" y2="344.80"/><line x1="288.3" y1="345.10" x2="301.9" y2="345.10"/><line x1="288.3" y1="349.00" x2="301.9" y2="349.00"/><line x1="288.3" y1="349.00" x2="301.9" y2="349.00"/><line x1="288.3" y1="352.60" x2="301.9" y2="352.60"/><line x1="288.3" y1="354.40" x2="301.9" y2="354.40"/><line x1="288.3" y1="354.70" x2="301.9" y2="354.70"/><line x1="288.3" y1="356.30" x2="301.9" y2="356.30"/><line x1="288.3" y1="356.80" x2="301.9" y2="356.80"/><line x1="288.3" y1="356.00" x2="301.9" y2="356.00"/><line x1="288.3" y1="355.20" x2="301.9" y2="355.20"/><line x1="288.3" y1="358.80" x2="301.9" y2="358.80"/><line x1="288.3" y1="357.90" x2="301.9" y2="357.90"/></g><g stroke="#e05a5a" stroke-opacity="0.4" stroke-width="0.6"><line x1="288.3" y1="289.50" x2="301.9" y2="289.50"/><line x1="288.3" y1="296.90" x2="301.9" y2="296.90"/><line x1="288.3" y1="316.00" x2="301.9" y2="316.00"/><line x1="288.3" y1="315.80" x2="301.9" y2="315.80"/><line x1="288.3" y1="326.40" x2="301.9" y2="326.40"/><line x1="288.3" y1="327.40" x2="301.9" y2="327.40"/><line x1="288.3" y1="330.90" x2="301.9" y2="330.90"/></g><g stroke="#5b93d3" stroke-opacity="0.27" stroke-width="0.6"><line x1="328.40" y1="377.8" x2="328.40" y2="391.8"/><line x1="335.10" y1="377.8" x2="335.10" y2="391.8"/><line x1="327.60" y1="377.8" x2="327.60" y2="391.8"/><line x1="337.80" y1="377.8" x2="337.80" y2="391.8"/><line x1="380.50" y1="377.8" x2="380.50" y2="391.8"/><line x1="392.90" y1="377.8" x2="392.90" y2="391.8"/><line x1="352.40" y1="377.8" x2="352.40" y2="391.8"/><line x1="355.30" y1="377.8" x2="355.30" y2="391.8"/><line x1="339.10" y1="377.8" x2="339.10" y2="391.8"/><line x1="325.80" y1="377.8" x2="325.80" y2="391.8"/><line x1="371.20" y1="377.8" x2="371.20" y2="391.8"/><line x1="379.10" y1="377.8" x2="379.10" y2="391.8"/><line x1="369.90" y1="377.8" x2="369.90" y2="391.8"/><line x1="381.20" y1="377.8" x2="381.20" y2="391.8"/><line x1="385.00" y1="377.8" x2="385.00" y2="391.8"/><line x1="329.20" y1="377.8" x2="329.20" y2="391.8"/><line x1="332.40" y1="377.8" x2="332.40" y2="391.8"/><line x1="333.50" y1="377.8" x2="333.50" y2="391.8"/><line x1="334.80" y1="377.8" x2="334.80" y2="391.8"/><line x1="340.20" y1="377.8" x2="340.20" y2="391.8"/><line x1="341.00" y1="377.8" x2="341.00" y2="391.8"/><line x1="325.00" y1="377.8" x2="325.00" y2="391.8"/><line x1="327.10" y1="377.8" x2="327.10" y2="391.8"/><line x1="331.10" y1="377.8" x2="331.10" y2="391.8"/><line x1="346.30" y1="377.8" x2="346.30" y2="391.8"/><line x1="357.90" y1="377.8" x2="357.90" y2="391.8"/><line x1="349.20" y1="377.8" x2="349.20" y2="391.8"/><line x1="325.20" y1="377.8" x2="325.20" y2="391.8"/><line x1="326.80" y1="377.8" x2="326.80" y2="391.8"/><line x1="331.00" y1="377.8" x2="331.00" y2="391.8"/><line x1="346.50" y1="377.8" x2="346.50" y2="391.8"/><line x1="358.20" y1="377.8" x2="358.20" y2="391.8"/><line x1="349.30" y1="377.8" x2="349.30" y2="391.8"/><line x1="374.20" y1="377.8" x2="374.20" y2="391.8"/><line x1="378.40" y1="377.8" x2="378.40" y2="391.8"/><line x1="369.10" y1="377.8" x2="369.10" y2="391.8"/><line x1="370.70" y1="377.8" x2="370.70" y2="391.8"/><line x1="388.50" y1="377.8" x2="388.50" y2="391.8"/><line x1="394.00" y1="377.8" x2="394.00" y2="391.8"/><line x1="399.00" y1="377.8" x2="399.00" y2="391.8"/><line x1="333.00" y1="377.8" x2="333.00" y2="391.8"/><line x1="340.00" y1="377.8" x2="340.00" y2="391.8"/><line x1="347.80" y1="377.8" x2="347.80" y2="391.8"/><line x1="357.10" y1="377.8" x2="357.10" y2="391.8"/><line x1="353.10" y1="377.8" x2="353.10" y2="391.8"/><line x1="357.10" y1="377.8" x2="357.10" y2="391.8"/><line x1="368.30" y1="377.8" x2="368.30" y2="391.8"/><line x1="367.50" y1="377.8" x2="367.50" y2="391.8"/><line x1="336.90" y1="377.8" x2="336.90" y2="391.8"/><line x1="328.70" y1="377.8" x2="328.70" y2="391.8"/><line x1="326.30" y1="377.8" x2="326.30" y2="391.8"/><line x1="324.80" y1="377.8" x2="324.80" y2="391.8"/><line x1="325.60" y1="377.8" x2="325.60" y2="391.8"/><line x1="347.30" y1="377.8" x2="347.30" y2="391.8"/><line x1="355.90" y1="377.8" x2="355.90" y2="391.8"/><line x1="356.70" y1="377.8" x2="356.70" y2="391.8"/><line x1="366.80" y1="377.8" x2="366.80" y2="391.8"/><line x1="371.40" y1="377.8" x2="371.40" y2="391.8"/><line x1="374.50" y1="377.8" x2="374.50" y2="391.8"/><line x1="379.20" y1="377.8" x2="379.20" y2="391.8"/><line x1="381.20" y1="377.8" x2="381.20" y2="391.8"/><line x1="379.70" y1="377.8" x2="379.70" y2="391.8"/><line x1="390.10" y1="377.8" x2="390.10" y2="391.8"/><line x1="388.80" y1="377.8" x2="388.80" y2="391.8"/><line x1="394.80" y1="377.8" x2="394.80" y2="391.8"/><line x1="323.20" y1="377.8" x2="323.20" y2="391.8"/><line x1="338.50" y1="377.8" x2="338.50" y2="391.8"/><line x1="338.00" y1="377.8" x2="338.00" y2="391.8"/><line x1="347.00" y1="377.8" x2="347.00" y2="391.8"/><line x1="348.10" y1="377.8" x2="348.10" y2="391.8"/><line x1="351.20" y1="377.8" x2="351.20" y2="391.8"/><line x1="353.20" y1="377.8" x2="353.20" y2="391.8"/><line x1="357.40" y1="377.8" x2="357.40" y2="391.8"/><line x1="363.70" y1="377.8" x2="363.70" y2="391.8"/><line x1="364.40" y1="377.8" x2="364.40" y2="391.8"/><line x1="374.50" y1="377.8" x2="374.50" y2="391.8"/><line x1="376.90" y1="377.8" x2="376.90" y2="391.8"/><line x1="381.50" y1="377.8" x2="381.50" y2="391.8"/><line x1="380.80" y1="377.8" x2="380.80" y2="391.8"/><line x1="385.40" y1="377.8" x2="385.40" y2="391.8"/><line x1="387.80" y1="377.8" x2="387.80" y2="391.8"/><line x1="390.90" y1="377.8" x2="390.90" y2="391.8"/><line x1="325.60" y1="377.8" x2="325.60" y2="391.8"/><line x1="327.90" y1="377.8" x2="327.90" y2="391.8"/><line x1="330.20" y1="377.8" x2="330.20" y2="391.8"/><line x1="343.10" y1="377.8" x2="343.10" y2="391.8"/><line x1="346.50" y1="377.8" x2="346.50" y2="391.8"/><line x1="349.70" y1="377.8" x2="349.70" y2="391.8"/><line x1="358.20" y1="377.8" x2="358.20" y2="391.8"/><line x1="364.40" y1="377.8" x2="364.40" y2="391.8"/><line x1="367.50" y1="377.8" x2="367.50" y2="391.8"/><line x1="369.10" y1="377.8" x2="369.10" y2="391.8"/><line x1="371.40" y1="377.8" x2="371.40" y2="391.8"/><line x1="373.00" y1="377.8" x2="373.00" y2="391.8"/><line x1="376.10" y1="377.8" x2="376.10" y2="391.8"/><line x1="380.00" y1="377.8" x2="380.00" y2="391.8"/><line x1="397.90" y1="377.8" x2="397.90" y2="391.8"/><line x1="326.30" y1="377.8" x2="326.30" y2="391.8"/><line x1="328.70" y1="377.8" x2="328.70" y2="391.8"/><line x1="331.80" y1="377.8" x2="331.80" y2="391.8"/><line x1="332.50" y1="377.8" x2="332.50" y2="391.8"/><line x1="331.00" y1="377.8" x2="331.00" y2="391.8"/><line x1="353.50" y1="377.8" x2="353.50" y2="391.8"/><line x1="352.00" y1="377.8" x2="352.00" y2="391.8"/><line x1="355.90" y1="377.8" x2="355.90" y2="391.8"/><line x1="357.70" y1="377.8" x2="357.70" y2="391.8"/><line x1="369.90" y1="377.8" x2="369.90" y2="391.8"/><line x1="374.90" y1="377.8" x2="374.90" y2="391.8"/><line x1="373.80" y1="377.8" x2="373.80" y2="391.8"/><line x1="383.90" y1="377.8" x2="383.90" y2="391.8"/><line x1="383.10" y1="377.8" x2="383.10" y2="391.8"/><line x1="387.00" y1="377.8" x2="387.00" y2="391.8"/><line x1="391.30" y1="377.8" x2="391.30" y2="391.8"/><line x1="397.90" y1="377.8" x2="397.90" y2="391.8"/><line x1="321.40" y1="377.8" x2="321.40" y2="391.8"/><line x1="327.40" y1="377.8" x2="327.40" y2="391.8"/><line x1="331.80" y1="377.8" x2="331.80" y2="391.8"/><line x1="336.40" y1="377.8" x2="336.40" y2="391.8"/><line x1="339.50" y1="377.8" x2="339.50" y2="391.8"/><line x1="341.10" y1="377.8" x2="341.10" y2="391.8"/><line x1="343.40" y1="377.8" x2="343.40" y2="391.8"/><line x1="346.50" y1="377.8" x2="346.50" y2="391.8"/><line x1="348.90" y1="377.8" x2="348.90" y2="391.8"/><line x1="343.70" y1="377.8" x2="343.70" y2="391.8"/><line x1="352.00" y1="377.8" x2="352.00" y2="391.8"/><line x1="355.10" y1="377.8" x2="355.10" y2="391.8"/><line x1="365.20" y1="377.8" x2="365.20" y2="391.8"/><line x1="366.50" y1="377.8" x2="366.50" y2="391.8"/><line x1="369.10" y1="377.8" x2="369.10" y2="391.8"/><line x1="379.20" y1="377.8" x2="379.20" y2="391.8"/><line x1="380.80" y1="377.8" x2="380.80" y2="391.8"/><line x1="385.40" y1="377.8" x2="385.40" y2="391.8"/><line x1="387.80" y1="377.8" x2="387.80" y2="391.8"/><line x1="391.60" y1="377.8" x2="391.60" y2="391.8"/><line x1="320.10" y1="377.8" x2="320.10" y2="391.8"/><line x1="320.10" y1="377.8" x2="320.10" y2="391.8"/><line x1="324.00" y1="377.8" x2="324.00" y2="391.8"/><line x1="327.90" y1="377.8" x2="327.90" y2="391.8"/><line x1="331.80" y1="377.8" x2="331.80" y2="391.8"/><line x1="330.20" y1="377.8" x2="330.20" y2="391.8"/><line x1="331.80" y1="377.8" x2="331.80" y2="391.8"/><line x1="334.90" y1="377.8" x2="334.90" y2="391.8"/><line x1="338.80" y1="377.8" x2="338.80" y2="391.8"/><line x1="339.50" y1="377.8" x2="339.50" y2="391.8"/><line x1="341.90" y1="377.8" x2="341.90" y2="391.8"/><line x1="345.00" y1="377.8" x2="345.00" y2="391.8"/><line x1="349.20" y1="377.8" x2="349.20" y2="391.8"/><line x1="352.80" y1="377.8" x2="352.80" y2="391.8"/><line x1="355.90" y1="377.8" x2="355.90" y2="391.8"/><line x1="358.70" y1="377.8" x2="358.70" y2="391.8"/><line x1="361.00" y1="377.8" x2="361.00" y2="391.8"/><line x1="362.90" y1="377.8" x2="362.90" y2="391.8"/><line x1="362.10" y1="377.8" x2="362.10" y2="391.8"/><line x1="367.10" y1="377.8" x2="367.10" y2="391.8"/><line x1="375.30" y1="377.8" x2="375.30" y2="391.8"/><line x1="376.40" y1="377.8" x2="376.40" y2="391.8"/><line x1="382.60" y1="377.8" x2="382.60" y2="391.8"/><line x1="388.10" y1="377.8" x2="388.10" y2="391.8"/><line x1="390.60" y1="377.8" x2="390.60" y2="391.8"/><line x1="395.50" y1="377.8" x2="395.50" y2="391.8"/><line x1="400.20" y1="377.8" x2="400.20" y2="391.8"/><line x1="373.80" y1="377.8" x2="373.80" y2="391.8"/><line x1="377.20" y1="377.8" x2="377.20" y2="391.8"/><line x1="383.90" y1="377.8" x2="383.90" y2="391.8"/><line x1="455.70" y1="377.8" x2="455.70" y2="391.8"/><line x1="411.60" y1="377.8" x2="411.60" y2="391.8"/><line x1="404.00" y1="377.8" x2="404.00" y2="391.8"/><line x1="407.40" y1="377.8" x2="407.40" y2="391.8"/><line x1="398.90" y1="377.8" x2="398.90" y2="391.8"/><line x1="424.50" y1="377.8" x2="424.50" y2="391.8"/><line x1="429.50" y1="377.8" x2="429.50" y2="391.8"/><line x1="465.50" y1="377.8" x2="465.50" y2="391.8"/><line x1="482.10" y1="377.8" x2="482.10" y2="391.8"/><line x1="474.90" y1="377.8" x2="474.90" y2="391.8"/><line x1="411.00" y1="377.8" x2="411.00" y2="391.8"/><line x1="397.80" y1="377.8" x2="397.80" y2="391.8"/><line x1="404.80" y1="377.8" x2="404.80" y2="391.8"/><line x1="404.30" y1="377.8" x2="404.30" y2="391.8"/><line x1="409.30" y1="377.8" x2="409.30" y2="391.8"/><line x1="415.70" y1="377.8" x2="415.70" y2="391.8"/><line x1="398.40" y1="377.8" x2="398.40" y2="391.8"/><line x1="409.50" y1="377.8" x2="409.50" y2="391.8"/><line x1="407.80" y1="377.8" x2="407.80" y2="391.8"/><line x1="409.00" y1="377.8" x2="409.00" y2="391.8"/><line x1="411.00" y1="377.8" x2="411.00" y2="391.8"/><line x1="400.00" y1="377.8" x2="400.00" y2="391.8"/><line x1="395.80" y1="377.8" x2="395.80" y2="391.8"/><line x1="414.40" y1="377.8" x2="414.40" y2="391.8"/><line x1="418.00" y1="377.8" x2="418.00" y2="391.8"/><line x1="409.80" y1="377.8" x2="409.80" y2="391.8"/><line x1="410.60" y1="377.8" x2="410.60" y2="391.8"/></g><g stroke="#e05a5a" stroke-opacity="0.4" stroke-width="0.6"><line x1="365.40" y1="377.8" x2="365.40" y2="391.8"/><line x1="359.70" y1="377.8" x2="359.70" y2="391.8"/><line x1="365.40" y1="377.8" x2="365.40" y2="391.8"/><line x1="365.20" y1="377.8" x2="365.20" y2="391.8"/><line x1="362.10" y1="377.8" x2="362.10" y2="391.8"/><line x1="364.40" y1="377.8" x2="364.40" y2="391.8"/><line x1="362.60" y1="377.8" x2="362.60" y2="391.8"/></g><line x1="362.75" y1="234.90" x2="362.75" y2="376.40" stroke="#d4f0d8" stroke-width="0.7" /><line x1="433.50" y1="234.90" x2="433.50" y2="376.40" stroke="#d4f0d8" stroke-width="0.7" /><rect x="320.30" y="245.30" width="14.15" height="131.00" fill="none" stroke="#d3f0de" stroke-width="0.7" /><rect x="334.45" y="245.30" width="21.23" height="131.00" fill="none" stroke="#d3f0de" stroke-width="0.7" /><rect x="355.68" y="258.01" width="14.15" height="118.29" fill="none" stroke="#d3f0de" stroke-width="0.7" /><rect x="369.82" y="245.30" width="21.23" height="131.00" fill="none" stroke="#d3f0de" stroke-width="0.7" /><rect x="391.05" y="245.30" width="14.15" height="131.00" fill="none" stroke="#d3f0de" stroke-width="0.7" /><rect x="405.20" y="245.30" width="21.22" height="131.00" fill="none" stroke="#d3f0de" stroke-width="0.7" /><rect x="426.43" y="245.30" width="14.15" height="131.00" fill="none" stroke="#d3f0de" stroke-width="0.7" /><rect x="440.58" y="245.30" width="21.22" height="131.00" fill="none" stroke="#d3f0de" stroke-width="0.7" /><rect x="461.80" y="245.30" width="14.15" height="131.00" fill="none" stroke="#d3f0de" stroke-width="0.7" /><rect x="475.95" y="245.30" width="14.15" height="131.00" fill="none" stroke="#d3f0de" stroke-width="0.7" /><line x1="362.75" y1="234.90" x2="362.75" y2="258.01" stroke="#86dc52" stroke-width="0.9" /><line x1="433.50" y1="234.90" x2="433.50" y2="245.30" stroke="#86dc52" stroke-width="0.9" /><g fill="#4d8ed2"><circle cx="328.40" cy="271.90" r="1.25"/><circle cx="335.10" cy="279.90" r="1.25"/><circle cx="327.60" cy="285.00" r="1.25"/><circle cx="337.80" cy="286.60" r="1.25"/><circle cx="380.50" cy="274.70" r="1.25"/><circle cx="392.90" cy="272.20" r="1.25"/><circle cx="352.40" cy="293.50" r="1.25"/><circle cx="355.30" cy="298.70" r="1.25"/><circle cx="339.10" cy="302.80" r="1.25"/><circle cx="325.80" cy="306.00" r="1.25"/><circle cx="371.20" cy="304.10" r="1.25"/><circle cx="379.10" cy="303.50" r="1.25"/><circle cx="369.90" cy="309.60" r="1.25"/><circle cx="381.20" cy="312.50" r="1.25"/><circle cx="385.00" cy="310.90" r="1.25"/><circle cx="329.20" cy="313.30" r="1.25"/><circle cx="332.40" cy="311.50" r="1.25"/><circle cx="333.50" cy="310.90" r="1.25"/><circle cx="334.80" cy="313.90" r="1.25"/><circle cx="340.20" cy="311.20" r="1.25"/><circle cx="341.00" cy="310.10" r="1.25"/><circle cx="325.00" cy="317.10" r="1.25"/><circle cx="327.10" cy="317.90" r="1.25"/><circle cx="331.10" cy="316.80" r="1.25"/><circle cx="346.30" cy="317.30" r="1.25"/><circle cx="357.90" cy="318.10" r="1.25"/><circle cx="349.20" cy="319.70" r="1.25"/><circle cx="325.20" cy="317.30" r="1.25"/><circle cx="326.80" cy="317.80" r="1.25"/><circle cx="331.00" cy="316.90" r="1.25"/><circle cx="346.50" cy="317.30" r="1.25"/><circle cx="358.20" cy="318.10" r="1.25"/><circle cx="349.30" cy="321.20" r="1.25"/><circle cx="374.20" cy="322.00" r="1.25"/><circle cx="378.40" cy="324.30" r="1.25"/><circle cx="369.10" cy="324.30" r="1.25"/><circle cx="370.70" cy="325.60" r="1.25"/><circle cx="388.50" cy="324.60" r="1.25"/><circle cx="394.00" cy="327.10" r="1.25"/><circle cx="399.00" cy="330.20" r="1.25"/><circle cx="333.00" cy="325.10" r="1.25"/><circle cx="340.00" cy="325.60" r="1.25"/><circle cx="347.80" cy="326.40" r="1.25"/><circle cx="357.10" cy="324.30" r="1.25"/><circle cx="353.10" cy="328.70" r="1.25"/><circle cx="357.10" cy="329.30" r="1.25"/><circle cx="368.30" cy="329.00" r="1.25"/><circle cx="367.50" cy="331.30" r="1.25"/><circle cx="336.90" cy="329.90" r="1.25"/><circle cx="328.70" cy="330.90" r="1.25"/><circle cx="326.30" cy="331.80" r="1.25"/><circle cx="324.80" cy="334.40" r="1.25"/><circle cx="325.60" cy="335.20" r="1.25"/><circle cx="347.30" cy="332.90" r="1.25"/><circle cx="355.90" cy="332.90" r="1.25"/><circle cx="356.70" cy="334.90" r="1.25"/><circle cx="366.80" cy="333.20" r="1.25"/><circle cx="371.40" cy="334.40" r="1.25"/><circle cx="374.50" cy="335.20" r="1.25"/><circle cx="379.20" cy="333.40" r="1.25"/><circle cx="381.20" cy="333.40" r="1.25"/><circle cx="379.70" cy="334.90" r="1.25"/><circle cx="390.10" cy="332.10" r="1.25"/><circle cx="388.80" cy="334.90" r="1.25"/><circle cx="394.80" cy="334.90" r="1.25"/><circle cx="323.20" cy="339.10" r="1.25"/><circle cx="338.50" cy="337.20" r="1.25"/><circle cx="338.00" cy="339.90" r="1.25"/><circle cx="347.00" cy="336.80" r="1.25"/><circle cx="348.10" cy="339.90" r="1.25"/><circle cx="351.20" cy="338.00" r="1.25"/><circle cx="353.20" cy="337.60" r="1.25"/><circle cx="357.40" cy="338.00" r="1.25"/><circle cx="363.70" cy="337.20" r="1.25"/><circle cx="364.40" cy="340.70" r="1.25"/><circle cx="374.50" cy="338.30" r="1.25"/><circle cx="376.90" cy="338.30" r="1.25"/><circle cx="381.50" cy="339.10" r="1.25"/><circle cx="380.80" cy="340.70" r="1.25"/><circle cx="385.40" cy="339.10" r="1.25"/><circle cx="387.80" cy="340.20" r="1.25"/><circle cx="390.90" cy="341.40" r="1.25"/><circle cx="325.60" cy="342.70" r="1.25"/><circle cx="327.90" cy="343.30" r="1.25"/><circle cx="330.20" cy="343.80" r="1.25"/><circle cx="343.10" cy="343.30" r="1.25"/><circle cx="346.50" cy="343.30" r="1.25"/><circle cx="349.70" cy="343.80" r="1.25"/><circle cx="358.20" cy="342.70" r="1.25"/><circle cx="364.40" cy="344.10" r="1.25"/><circle cx="367.50" cy="341.70" r="1.25"/><circle cx="369.10" cy="343.80" r="1.25"/><circle cx="371.40" cy="345.30" r="1.25"/><circle cx="373.00" cy="343.80" r="1.25"/><circle cx="376.10" cy="344.50" r="1.25"/><circle cx="380.00" cy="345.60" r="1.25"/><circle cx="397.90" cy="344.50" r="1.25"/><circle cx="326.30" cy="347.70" r="1.25"/><circle cx="328.70" cy="346.90" r="1.25"/><circle cx="331.80" cy="345.30" r="1.25"/><circle cx="332.50" cy="346.90" r="1.25"/><circle cx="331.00" cy="346.10" r="1.25"/><circle cx="353.50" cy="346.10" r="1.25"/><circle cx="352.00" cy="348.90" r="1.25"/><circle cx="355.90" cy="348.40" r="1.25"/><circle cx="357.70" cy="346.10" r="1.25"/><circle cx="369.90" cy="346.90" r="1.25"/><circle cx="374.90" cy="348.70" r="1.25"/><circle cx="373.80" cy="350.00" r="1.25"/><circle cx="383.90" cy="347.70" r="1.25"/><circle cx="383.10" cy="350.00" r="1.25"/><circle cx="387.00" cy="347.30" r="1.25"/><circle cx="391.30" cy="348.10" r="1.25"/><circle cx="397.90" cy="348.90" r="1.25"/><circle cx="321.40" cy="350.80" r="1.25"/><circle cx="327.40" cy="349.50" r="1.25"/><circle cx="331.80" cy="351.10" r="1.25"/><circle cx="336.40" cy="350.80" r="1.25"/><circle cx="339.50" cy="349.20" r="1.25"/><circle cx="341.10" cy="350.00" r="1.25"/><circle cx="343.40" cy="351.10" r="1.25"/><circle cx="346.50" cy="352.30" r="1.25"/><circle cx="348.90" cy="352.00" r="1.25"/><circle cx="343.70" cy="353.10" r="1.25"/><circle cx="352.00" cy="352.30" r="1.25"/><circle cx="355.10" cy="348.90" r="1.25"/><circle cx="365.20" cy="351.10" r="1.25"/><circle cx="366.50" cy="352.30" r="1.25"/><circle cx="369.10" cy="350.80" r="1.25"/><circle cx="379.20" cy="350.80" r="1.25"/><circle cx="380.80" cy="352.30" r="1.25"/><circle cx="385.40" cy="352.00" r="1.25"/><circle cx="387.80" cy="352.60" r="1.25"/><circle cx="391.60" cy="351.90" r="1.25"/><circle cx="320.10" cy="356.20" r="1.25"/><circle cx="320.10" cy="357.80" r="1.25"/><circle cx="324.00" cy="355.70" r="1.25"/><circle cx="327.90" cy="355.70" r="1.25"/><circle cx="331.80" cy="356.20" r="1.25"/><circle cx="330.20" cy="358.50" r="1.25"/><circle cx="331.80" cy="359.30" r="1.25"/><circle cx="334.90" cy="355.10" r="1.25"/><circle cx="338.80" cy="353.90" r="1.25"/><circle cx="339.50" cy="357.30" r="1.25"/><circle cx="341.90" cy="359.30" r="1.25"/><circle cx="345.00" cy="356.70" r="1.25"/><circle cx="349.20" cy="359.80" r="1.25"/><circle cx="352.80" cy="357.80" r="1.25"/><circle cx="355.90" cy="357.80" r="1.25"/><circle cx="358.70" cy="357.00" r="1.25"/><circle cx="361.00" cy="357.80" r="1.25"/><circle cx="362.90" cy="356.20" r="1.25"/><circle cx="362.10" cy="358.90" r="1.25"/><circle cx="367.10" cy="358.50" r="1.25"/><circle cx="375.30" cy="357.00" r="1.25"/><circle cx="376.40" cy="358.90" r="1.25"/><circle cx="382.60" cy="356.20" r="1.25"/><circle cx="388.10" cy="358.50" r="1.25"/><circle cx="390.60" cy="357.00" r="1.25"/><circle cx="395.50" cy="356.20" r="1.25"/><circle cx="400.20" cy="356.20" r="1.25"/><circle cx="373.80" cy="353.90" r="1.25"/><circle cx="377.20" cy="354.70" r="1.25"/><circle cx="383.90" cy="353.90" r="1.25"/><circle cx="455.70" cy="250.60" r="1.25"/><circle cx="411.60" cy="297.50" r="1.25"/><circle cx="404.00" cy="323.30" r="1.25"/><circle cx="407.40" cy="326.90" r="1.25"/><circle cx="398.90" cy="330.30" r="1.25"/><circle cx="424.50" cy="335.50" r="1.25"/><circle cx="429.50" cy="331.90" r="1.25"/><circle cx="465.50" cy="326.60" r="1.25"/><circle cx="482.10" cy="316.80" r="1.25"/><circle cx="474.90" cy="347.00" r="1.25"/><circle cx="411.00" cy="342.00" r="1.25"/><circle cx="397.80" cy="344.80" r="1.25"/><circle cx="404.80" cy="344.80" r="1.25"/><circle cx="404.30" cy="346.30" r="1.25"/><circle cx="409.30" cy="344.80" r="1.25"/><circle cx="415.70" cy="345.10" r="1.25"/><circle cx="398.40" cy="349.00" r="1.25"/><circle cx="409.50" cy="349.00" r="1.25"/><circle cx="407.80" cy="352.60" r="1.25"/><circle cx="409.00" cy="354.40" r="1.25"/><circle cx="411.00" cy="354.70" r="1.25"/><circle cx="400.00" cy="356.30" r="1.25"/><circle cx="395.80" cy="356.80" r="1.25"/><circle cx="414.40" cy="356.00" r="1.25"/><circle cx="418.00" cy="355.20" r="1.25"/><circle cx="409.80" cy="358.80" r="1.25"/><circle cx="410.60" cy="357.90" r="1.25"/></g><g fill="#e8312b"><circle cx="365.40" cy="289.50" r="1.3"/><circle cx="359.70" cy="296.90" r="1.3"/><circle cx="365.40" cy="316.00" r="1.3"/><circle cx="365.20" cy="315.80" r="1.3"/><circle cx="362.10" cy="326.40" r="1.3"/><circle cx="364.40" cy="327.40" r="1.3"/><circle cx="362.60" cy="330.90" r="1.3"/></g><text x="327.40" y="243.87" font-size="5.5" text-anchor="middle" fill="#222" font-family="Liberation Serif" font-weight="normal" >100%</text><text x="345.20" y="243.87" font-size="5.5" text-anchor="middle" fill="#222" font-family="Liberation Serif" font-weight="normal" >100%</text><text x="362.60" y="251.87" font-size="5.5" text-anchor="middle" fill="#222" font-family="Liberation Serif" font-weight="normal" >90.3%</text><text x="380.70" y="250.87" font-size="5.5" text-anchor="middle" fill="#222" font-family="Liberation Serif" font-weight="normal" >100%</text><text x="397.70" y="243.87" font-size="5.5" text-anchor="middle" fill="#222" font-family="Liberation Serif" font-weight="normal" >100%</text><text x="415.20" y="243.87" font-size="5.5" text-anchor="middle" fill="#222" font-family="Liberation Serif" font-weight="normal" >100%</text><text x="433.20" y="243.87" font-size="5.5" text-anchor="middle" fill="#222" font-family="Liberation Serif" font-weight="normal" >100%</text><text x="450.90" y="243.87" font-size="5.5" text-anchor="middle" fill="#222" font-family="Liberation Serif" font-weight="normal" >100%</text><text x="468.40" y="243.87" font-size="5.5" text-anchor="middle" fill="#222" font-family="Liberation Serif" font-weight="normal" >100%</text><text x="482.40" y="243.87" font-size="5.5" text-anchor="middle" fill="#222" font-family="Liberation Serif" font-weight="normal" >100%</text><line x1="286.80" y1="234.90" x2="494.80" y2="234.90" stroke="#6e6e6e" stroke-width="1.5" /><line x1="286.80" y1="234.90" x2="286.80" y2="376.40" stroke="#333" stroke-width="1" /><line x1="303.40" y1="234.90" x2="303.40" y2="393.50" stroke="#333" stroke-width="1" /><line x1="494.80" y1="234.90" x2="494.80" y2="394.00" stroke="#444" stroke-width="1.3" /><line x1="303.40" y1="393.50" x2="494.80" y2="393.50" stroke="#333" stroke-width="1" /><line x1="286.80" y1="376.40" x2="320.30" y2="376.40" stroke="#333" stroke-width="1.1" /><line x1="490.10" y1="376.40" x2="494.80" y2="376.40" stroke="#333" stroke-width="1.1" /><line x1="320.30" y1="376.40" x2="490.10" y2="376.40" stroke="#c9d9cc" stroke-width="1.1" /><line x1="283.80" y1="376.10" x2="286.80" y2="376.10" stroke="#333" stroke-width="0.9" /><g transform="translate(281.30 376.10) scale(0.8 1)"><text x="0" y="2.92" font-size="8.6" text-anchor="end" fill="#222" font-family="Liberation Serif" font-weight="normal" >-0.5</text></g><line x1="285.30" y1="367.80" x2="286.80" y2="367.80" stroke="#333" stroke-width="0.9" /><line x1="283.80" y1="359.50" x2="286.80" y2="359.50" stroke="#333" stroke-width="0.9" /><g transform="translate(281.30 359.50) scale(0.8 1)"><text x="0" y="2.92" font-size="8.6" text-anchor="end" fill="#222" font-family="Liberation Serif" font-weight="normal" >0.0</text></g><line x1="285.30" y1="351.20" x2="286.80" y2="351.20" stroke="#333" stroke-width="0.9" /><line x1="283.80" y1="342.90" x2="286.80" y2="342.90" stroke="#333" stroke-width="0.9" /><g transform="translate(281.30 342.90) scale(0.8 1)"><text x="0" y="2.92" font-size="8.6" text-anchor="end" fill="#222" font-family="Liberation Serif" font-weight="normal" >0.5</text></g><line x1="285.30" y1="334.60" x2="286.80" y2="334.60" stroke="#333" stroke-width="0.9" /><line x1="283.80" y1="326.30" x2="286.80" y2="326.30" stroke="#333" stroke-width="0.9" /><g transform="translate(281.30 326.30) scale(0.8 1)"><text x="0" y="2.92" font-size="8.6" text-anchor="end" fill="#222" font-family="Liberation Serif" font-weight="normal" >1.0</text></g><line x1="285.30" y1="318.00" x2="286.80" y2="318.00" stroke="#333" stroke-width="0.9" /><line x1="283.80" y1="309.70" x2="286.80" y2="309.70" stroke="#333" stroke-width="0.9" /><g transform="translate(281.30 309.70) scale(0.8 1)"><text x="0" y="2.92" font-size="8.6" text-anchor="end" fill="#222" font-family="Liberation Serif" font-weight="normal" >1.5</text></g><line x1="285.30" y1="301.40" x2="286.80" y2="301.40" stroke="#333" stroke-width="0.9" /><line x1="283.80" y1="293.10" x2="286.80" y2="293.10" stroke="#333" stroke-width="0.9" /><g transform="translate(281.30 293.10) scale(0.8 1)"><text x="0" y="2.92" font-size="8.6" text-anchor="end" fill="#222" font-family="Liberation Serif" font-weight="normal" >2.0</text></g><line x1="285.30" y1="284.80" x2="286.80" y2="284.80" stroke="#333" stroke-width="0.9" /><line x1="283.80" y1="276.50" x2="286.80" y2="276.50" stroke="#333" stroke-width="0.9" /><g transform="translate(281.30 276.50) scale(0.8 1)"><text x="0" y="2.92" font-size="8.6" text-anchor="end" fill="#222" font-family="Liberation Serif" font-weight="normal" >2.5</text></g><line x1="285.30" y1="268.20" x2="286.80" y2="268.20" stroke="#333" stroke-width="0.9" /><line x1="283.80" y1="259.90" x2="286.80" y2="259.90" stroke="#333" stroke-width="0.9" /><g transform="translate(281.30 259.90) scale(0.8 1)"><text x="0" y="2.92" font-size="8.6" text-anchor="end" fill="#222" font-family="Liberation Serif" font-weight="normal" >3.0</text></g><line x1="285.30" y1="251.60" x2="286.80" y2="251.60" stroke="#333" stroke-width="0.9" /><line x1="283.80" y1="243.30" x2="286.80" y2="243.30" stroke="#333" stroke-width="0.9" /><g transform="translate(281.30 243.30) scale(0.8 1)"><text x="0" y="2.92" font-size="8.6" text-anchor="end" fill="#222" font-family="Liberation Serif" font-weight="normal" >3.5</text></g><line x1="492.30" y1="376.30" x2="494.80" y2="376.30" stroke="#333" stroke-width="0.9" /><text x="497.60" y="379.02" font-size="8" text-anchor="start" fill="#222" font-family="Liberation Serif" font-weight="normal" >0</text><line x1="494.80" y1="373.68" x2="496.00" y2="373.68" stroke="#333" stroke-width="0.8" /><line x1="494.80" y1="371.06" x2="496.00" y2="371.06" stroke="#333" stroke-width="0.8" /><line x1="494.80" y1="368.44" x2="496.00" y2="368.44" stroke="#333" stroke-width="0.8" /><line x1="494.80" y1="365.82" x2="496.00" y2="365.82" stroke="#333" stroke-width="0.8" /><line x1="492.30" y1="363.20" x2="494.80" y2="363.20" stroke="#333" stroke-width="0.9" /><text x="497.60" y="365.92" font-size="8" text-anchor="start" fill="#222" font-family="Liberation Serif" font-weight="normal" >10</text><line x1="494.80" y1="360.58" x2="496.00" y2="360.58" stroke="#333" stroke-width="0.8" /><line x1="494.80" y1="357.96" x2="496.00" y2="357.96" stroke="#333" stroke-width="0.8" /><line x1="494.80" y1="355.34" x2="496.00" y2="355.34" stroke="#333" stroke-width="0.8" /><line x1="494.80" y1="352.72" x2="496.00" y2="352.72" stroke="#333" stroke-width="0.8" /><line x1="492.30" y1="350.10" x2="494.80" y2="350.10" stroke="#333" stroke-width="0.9" /><text x="497.60" y="352.82" font-size="8" text-anchor="start" fill="#222" font-family="Liberation Serif" font-weight="normal" >20</text><line x1="494.80" y1="347.48" x2="496.00" y2="347.48" stroke="#333" stroke-width="0.8" /><line x1="494.80" y1="344.86" x2="496.00" y2="344.86" stroke="#333" stroke-width="0.8" /><line x1="494.80" y1="342.24" x2="496.00" y2="342.24" stroke="#333" stroke-width="0.8" /><line x1="494.80" y1="339.62" x2="496.00" y2="339.62" stroke="#333" stroke-width="0.8" /><line x1="492.30" y1="337.00" x2="494.80" y2="337.00" stroke="#333" stroke-width="0.9" /><text x="497.60" y="339.72" font-size="8" text-anchor="start" fill="#222" font-family="Liberation Serif" font-weight="normal" >30</text><line x1="494.80" y1="334.38" x2="496.00" y2="334.38" stroke="#333" stroke-width="0.8" /><line x1="494.80" y1="331.76" x2="496.00" y2="331.76" stroke="#333" stroke-width="0.8" /><line x1="494.80" y1="329.14" x2="496.00" y2="329.14" stroke="#333" stroke-width="0.8" /><line x1="494.80" y1="326.52" x2="496.00" y2="326.52" stroke="#333" stroke-width="0.8" /><line x1="492.30" y1="323.90" x2="494.80" y2="323.90" stroke="#333" stroke-width="0.9" /><text x="497.60" y="326.62" font-size="8" text-anchor="start" fill="#222" font-family="Liberation Serif" font-weight="normal" >40</text><line x1="494.80" y1="321.28" x2="496.00" y2="321.28" stroke="#333" stroke-width="0.8" /><line x1="494.80" y1="318.66" x2="496.00" y2="318.66" stroke="#333" stroke-width="0.8" /><line x1="494.80" y1="316.04" x2="496.00" y2="316.04" stroke="#333" stroke-width="0.8" /><line x1="494.80" y1="313.42" x2="496.00" y2="313.42" stroke="#333" stroke-width="0.8" /><line x1="492.30" y1="310.80" x2="494.80" y2="310.80" stroke="#333" stroke-width="0.9" /><text x="497.60" y="313.52" font-size="8" text-anchor="start" fill="#222" font-family="Liberation Serif" font-weight="normal" >50</text><line x1="494.80" y1="308.18" x2="496.00" y2="308.18" stroke="#333" stroke-width="0.8" /><line x1="494.80" y1="305.56" x2="496.00" y2="305.56" stroke="#333" stroke-width="0.8" /><line x1="494.80" y1="302.94" x2="496.00" y2="302.94" stroke="#333" stroke-width="0.8" /><line x1="494.80" y1="300.32" x2="496.00" y2="300.32" stroke="#333" stroke-width="0.8" /><line x1="492.30" y1="297.70" x2="494.80" y2="297.70" stroke="#333" stroke-width="0.9" /><text x="497.60" y="300.42" font-size="8" text-anchor="start" fill="#222" font-family="Liberation Serif" font-weight="normal" >60</text><line x1="494.80" y1="295.08" x2="496.00" y2="295.08" stroke="#333" stroke-width="0.8" /><line x1="494.80" y1="292.46" x2="496.00" y2="292.46" stroke="#333" stroke-width="0.8" /><line x1="494.80" y1="289.84" x2="496.00" y2="289.84" stroke="#333" stroke-width="0.8" /><line x1="494.80" y1="287.22" x2="496.00" y2="287.22" stroke="#333" stroke-width="0.8" /><line x1="492.30" y1="284.60" x2="494.80" y2="284.60" stroke="#333" stroke-width="0.9" /><text x="497.60" y="287.32" font-size="8" text-anchor="start" fill="#222" font-family="Liberation Serif" font-weight="normal" >70</text><line x1="494.80" y1="281.98" x2="496.00" y2="281.98" stroke="#333" stroke-width="0.8" /><line x1="494.80" y1="279.36" x2="496.00" y2="279.36" stroke="#333" stroke-width="0.8" /><line x1="494.80" y1="276.74" x2="496.00" y2="276.74" stroke="#333" stroke-width="0.8" /><line x1="494.80" y1="274.12" x2="496.00" y2="274.12" stroke="#333" stroke-width="0.8" /><line x1="492.30" y1="271.50" x2="494.80" y2="271.50" stroke="#333" stroke-width="0.9" /><text x="497.60" y="274.22" font-size="8" text-anchor="start" fill="#222" font-family="Liberation Serif" font-weight="normal" >80</text><line x1="494.80" y1="268.88" x2="496.00" y2="268.88" stroke="#333" stroke-width="0.8" /><line x1="494.80" y1="266.26" x2="496.00" y2="266.26" stroke="#333" stroke-width="0.8" /><line x1="494.80" y1="263.64" x2="496.00" y2="263.64" stroke="#333" stroke-width="0.8" /><line x1="494.80" y1="261.02" x2="496.00" y2="261.02" stroke="#333" stroke-width="0.8" /><line x1="492.30" y1="258.40" x2="494.80" y2="258.40" stroke="#333" stroke-width="0.9" /><text x="497.60" y="261.12" font-size="8" text-anchor="start" fill="#222" font-family="Liberation Serif" font-weight="normal" >90</text><line x1="494.80" y1="255.78" x2="496.00" y2="255.78" stroke="#333" stroke-width="0.8" /><line x1="494.80" y1="253.16" x2="496.00" y2="253.16" stroke="#333" stroke-width="0.8" /><line x1="494.80" y1="250.54" x2="496.00" y2="250.54" stroke="#333" stroke-width="0.8" /><line x1="494.80" y1="247.92" x2="496.00" y2="247.92" stroke="#333" stroke-width="0.8" /><line x1="492.30" y1="245.30" x2="494.80" y2="245.30" stroke="#333" stroke-width="0.9" /><text x="497.60" y="248.02" font-size="8" text-anchor="start" fill="#222" font-family="Liberation Serif" font-weight="normal" >100</text><line x1="494.80" y1="242.68" x2="496.00" y2="242.68" stroke="#333" stroke-width="0.8" /><line x1="494.80" y1="240.06" x2="496.00" y2="240.06" stroke="#333" stroke-width="0.8" /><line x1="494.80" y1="237.44" x2="496.00" y2="237.44" stroke="#333" stroke-width="0.8" /><line x1="303.32" y1="393.50" x2="303.32" y2="395.00" stroke="#333" stroke-width="0.9" /><line x1="308.98" y1="393.50" x2="308.98" y2="395.00" stroke="#333" stroke-width="0.9" /><line x1="314.64" y1="393.50" x2="314.64" y2="395.00" stroke="#333" stroke-width="0.9" /><line x1="320.30" y1="393.50" x2="320.30" y2="396.50" stroke="#333" stroke-width="0.9" /><g transform="translate(320.30 401.50) scale(0.88 1)"><text x="0" y="2.72" font-size="8" text-anchor="middle" fill="#222" font-family="Liberation Serif" font-weight="normal" >0</text></g><line x1="325.96" y1="393.50" x2="325.96" y2="395.00" stroke="#333" stroke-width="0.9" /><line x1="331.62" y1="393.50" x2="331.62" y2="395.00" stroke="#333" stroke-width="0.9" /><line x1="337.28" y1="393.50" x2="337.28" y2="395.00" stroke="#333" stroke-width="0.9" /><line x1="342.94" y1="393.50" x2="342.94" y2="395.00" stroke="#333" stroke-width="0.9" /><line x1="348.60" y1="393.50" x2="348.60" y2="396.50" stroke="#333" stroke-width="0.9" /><g transform="translate(348.60 401.50) scale(0.88 1)"><text x="0" y="2.72" font-size="8" text-anchor="middle" fill="#222" font-family="Liberation Serif" font-weight="normal" >10</text></g><line x1="354.26" y1="393.50" x2="354.26" y2="395.00" stroke="#333" stroke-width="0.9" /><line x1="359.92" y1="393.50" x2="359.92" y2="395.00" stroke="#333" stroke-width="0.9" /><line x1="365.58" y1="393.50" x2="365.58" y2="395.00" stroke="#333" stroke-width="0.9" /><line x1="371.24" y1="393.50" x2="371.24" y2="395.00" stroke="#333" stroke-width="0.9" /><line x1="376.90" y1="393.50" x2="376.90" y2="396.50" stroke="#333" stroke-width="0.9" /><g transform="translate(376.90 401.50) scale(0.88 1)"><text x="0" y="2.72" font-size="8" text-anchor="middle" fill="#222" font-family="Liberation Serif" font-weight="normal" >20</text></g><line x1="382.56" y1="393.50" x2="382.56" y2="395.00" stroke="#333" stroke-width="0.9" /><line x1="388.22" y1="393.50" x2="388.22" y2="395.00" stroke="#333" stroke-width="0.9" /><line x1="393.88" y1="393.50" x2="393.88" y2="395.00" stroke="#333" stroke-width="0.9" /><line x1="399.54" y1="393.50" x2="399.54" y2="395.00" stroke="#333" stroke-width="0.9" /><line x1="405.20" y1="393.50" x2="405.20" y2="396.50" stroke="#333" stroke-width="0.9" /><g transform="translate(405.20 401.50) scale(0.88 1)"><text x="0" y="2.72" font-size="8" text-anchor="middle" fill="#222" font-family="Liberation Serif" font-weight="normal" >30</text></g><line x1="410.86" y1="393.50" x2="410.86" y2="395.00" stroke="#333" stroke-width="0.9" /><line x1="416.52" y1="393.50" x2="416.52" y2="395.00" stroke="#333" stroke-width="0.9" /><line x1="422.18" y1="393.50" x2="422.18" y2="395.00" stroke="#333" stroke-width="0.9" /><line x1="427.84" y1="393.50" x2="427.84" y2="395.00" stroke="#333" stroke-width="0.9" /><line x1="433.50" y1="393.50" x2="433.50" y2="396.50" stroke="#333" stroke-width="0.9" /><g transform="translate(433.50 401.50) scale(0.88 1)"><text x="0" y="2.72" font-size="8" text-anchor="middle" fill="#222" font-family="Liberation Serif" font-weight="normal" >40</text></g><line x1="439.16" y1="393.50" x2="439.16" y2="395.00" stroke="#333" stroke-width="0.9" /><line x1="444.82" y1="393.50" x2="444.82" y2="395.00" stroke="#333" stroke-width="0.9" /><line x1="450.48" y1="393.50" x2="450.48" y2="395.00" stroke="#333" stroke-width="0.9" /><line x1="456.14" y1="393.50" x2="456.14" y2="395.00" stroke="#333" stroke-width="0.9" /><line x1="461.80" y1="393.50" x2="461.80" y2="396.50" stroke="#333" stroke-width="0.9" /><g transform="translate(461.80 401.50) scale(0.88 1)"><text x="0" y="2.72" font-size="8" text-anchor="middle" fill="#222" font-family="Liberation Serif" font-weight="normal" >50</text></g><line x1="467.46" y1="393.50" x2="467.46" y2="395.00" stroke="#333" stroke-width="0.9" /><line x1="473.12" y1="393.50" x2="473.12" y2="395.00" stroke="#333" stroke-width="0.9" /><line x1="478.78" y1="393.50" x2="478.78" y2="395.00" stroke="#333" stroke-width="0.9" /><line x1="484.44" y1="393.50" x2="484.44" y2="395.00" stroke="#333" stroke-width="0.9" /><line x1="490.10" y1="393.50" x2="490.10" y2="396.50" stroke="#333" stroke-width="0.9" /><g transform="translate(490.10 401.50) scale(0.88 1)"><text x="0" y="2.72" font-size="8" text-anchor="middle" fill="#222" font-family="Liberation Serif" font-weight="normal" >60</text></g><text x="362.75" y="233.22" font-size="7.7" text-anchor="middle" fill="#222" font-family="Liberation Serif" font-weight="normal" >15</text><text x="433.50" y="233.32" font-size="7.7" text-anchor="middle" fill="#222" font-family="Liberation Serif" font-weight="normal" >40</text><rect x="410.20" y="205.40" width="84.00" height="20.90" fill="#fff" stroke="#9a9a9a" stroke-width="0.6" /><circle cx="420.4" cy="210.7" r="1.3" fill="#e8312b"/><circle cx="420.4" cy="220.4" r="1.3" fill="#4d8ed2"/><text x="431.40" y="213.08" font-size="7.8" text-anchor="start" fill="#222" font-family="Liberation Serif" font-weight="normal" >Incorrect prediction</text><text x="431.40" y="222.58" font-size="7.8" text-anchor="start" fill="#222" font-family="Liberation Serif" font-weight="normal" >Correct prediction</text><g transform="translate(264.70 305.20) rotate(-90)"><text x="0" y="2.29" font-size="8.8" text-anchor="middle" fill="#222" font-family="Liberation Serif" font-weight="normal" >Error (mm)</text></g><g transform="translate(516.60 305.50) rotate(-90)"><text x="0" y="2.24" font-size="8.6" text-anchor="middle" fill="#222" font-family="Liberation Serif" font-weight="normal" >Accuracy (%)</text></g><text x="278.40" y="222.30" font-size="15" text-anchor="start" fill="#222" font-family="Liberation Serif" font-weight="normal" >d</text><defs><clipPath id="xc"><rect x="531.4" y="117.0" width="151.6" height="193.6"/></clipPath><filter id="bl" x="-10%" y="-10%" width="120%" height="120%"><feGaussianBlur stdDeviation="2.0"/></filter><filter id="bl4" x="-20%" y="-20%" width="140%" height="140%"><feGaussianBlur stdDeviation="2.6"/></filter><filter id="bl5" x="-20%" y="-20%" width="140%" height="140%"><feGaussianBlur stdDeviation="4.5"/></filter><filter id="bl1" x="-10%" y="-10%" width="120%" height="120%"><feGaussianBlur stdDeviation="0.6"/></filter></defs><g clip-path="url(#xc)"><g filter="url(#bl)"><rect x="520" y="100" width="180" height="230" fill="#939393"/><path d="M520.00,110.00 C527.00,110.00 554.67,107.00 562.00,110.00 C569.33,113.00 564.67,121.33 564.00,128.00 C563.33,134.67 565.33,146.00 558.00,150.00 C550.67,154.00 526.33,158.67 520.00,152.00 C513.67,145.33 520.00,117.00 520.00,110.00 Z" fill="#a2a2a2" /><path d="M556.00,112.00 C565.33,112.00 602.33,109.00 612.00,112.00 C621.67,115.00 618.50,127.00 614.00,130.00 C609.50,133.00 594.33,130.50 585.00,130.00 C575.67,129.50 562.83,130.00 558.00,127.00 C553.17,124.00 556.33,114.50 556.00,112.00 Z" fill="#858585" /><path d="M612.00,112.00 C622.00,112.00 662.17,108.67 672.00,112.00 C681.83,115.33 671.50,126.17 671.00,132.00 C670.50,137.83 670.33,143.00 669.00,147.00 C667.67,151.00 665.50,153.33 663.00,156.00 C660.50,158.67 657.67,160.83 654.00,163.00 C650.33,165.17 645.67,167.67 641.00,169.00 C636.33,170.33 629.50,172.50 626.00,171.00 C622.50,169.50 621.67,166.00 620.00,160.00 C618.33,154.00 617.33,143.00 616.00,135.00 C614.67,127.00 612.67,115.83 612.00,112.00 Z" fill="#8c8c8c" /><path d="M628.00,150.00 C630.83,149.33 639.67,146.33 645.00,146.00 C650.33,145.67 657.33,146.33 660.00,148.00 C662.67,149.67 663.00,153.33 661.00,156.00 C659.00,158.67 652.83,162.33 648.00,164.00 C643.17,165.67 635.33,168.33 632.00,166.00 C628.67,163.67 628.67,152.67 628.00,150.00 Z" fill="#9a9a9a" /><path d="M671.5,100.0 L700.0,100.0 L700.0,330.0 L684.0,330.0 L684.0,256.0 L677.0,247.0 L671.0,233.0 L665.0,207.0 L671.0,197.0 L672.0,172.0 L671.0,150.0 L671.5,130.0 Z" fill="#f0f0f0" /><path d="M671.5,100.0 L679.0,100.0 L679.0,150.0 L671.0,150.0 Z" fill="#c4c4c4" /><path d="M679.0,100.0 L700.0,100.0 L700.0,150.0 L679.0,150.0 Z" fill="#e2e2e2" /><path d="M618.00,172.00 C621.83,171.83 634.67,172.00 641.00,171.00 C647.33,170.00 651.83,168.50 656.00,166.00 C660.17,163.50 663.50,156.67 666.00,156.00 C668.50,155.33 670.00,158.00 671.00,162.00 C672.00,166.00 672.00,174.17 672.00,180.00 C672.00,185.83 672.17,192.50 671.00,197.00 C669.83,201.50 665.00,201.00 665.00,207.00 C665.00,213.00 669.00,226.17 671.00,233.00 C673.00,239.83 678.83,245.33 677.00,248.00 C675.17,250.67 665.83,249.17 660.00,249.00 C654.17,248.83 647.00,246.83 642.00,247.00 C637.00,247.17 633.00,251.50 630.00,250.00 C627.00,248.50 624.50,244.33 624.00,238.00 C623.50,231.67 627.33,220.33 627.00,212.00 C626.67,203.67 623.50,194.67 622.00,188.00 C620.50,181.33 618.67,174.67 618.00,172.00 Z" fill="#c8c8c8" /><path d="M606.00,172.00 C609.67,171.67 622.33,169.67 628.00,170.00 C633.67,170.33 638.67,170.67 640.00,174.00 C641.33,177.33 638.67,186.33 636.00,190.00 C633.33,193.67 628.33,196.00 624.00,196.00 C619.67,196.00 613.00,194.00 610.00,190.00 C607.00,186.00 606.67,175.00 606.00,172.00 Z" fill="#a6a6a6" /><path d="M566.00,172.00 C569.00,171.67 580.33,165.33 584.00,170.00 C587.67,174.67 586.67,190.33 588.00,200.00 C589.33,209.67 590.33,219.00 592.00,228.00 C593.67,237.00 598.33,247.67 598.00,254.00 C597.67,260.33 593.00,262.33 590.00,266.00 C587.00,269.67 583.17,275.00 580.00,276.00 C576.83,277.00 573.33,275.33 571.00,272.00 C568.67,268.67 568.17,261.33 566.00,256.00 C563.83,250.67 559.50,245.67 558.00,240.00 C556.50,234.33 556.33,228.67 557.00,222.00 C557.67,215.33 560.50,208.33 562.00,200.00 C563.50,191.67 565.33,176.67 566.00,172.00 Z" fill="#c6c6c6" /><path d="M520.00,207.00 C524.67,206.83 540.00,206.83 548.00,206.00 C556.00,205.17 564.67,200.33 568.00,202.00 C571.33,203.67 569.83,212.50 568.00,216.00 C566.17,219.50 561.67,221.83 557.00,223.00 C552.33,224.17 546.17,222.83 540.00,223.00 C533.83,223.17 523.33,226.67 520.00,224.00 C516.67,221.33 520.00,209.83 520.00,207.00 Z" fill="#cacaca" /><path d="M520.00,224.00 C524.17,223.67 539.00,222.33 545.00,222.00 C551.00,221.67 554.00,218.67 556.00,222.00 C558.00,225.33 555.33,236.00 557.00,242.00 C558.67,248.00 563.83,252.33 566.00,258.00 C568.17,263.67 569.83,270.50 570.00,276.00 C570.17,281.50 568.50,286.50 567.00,291.00 C565.50,295.50 562.67,299.17 561.00,303.00 C559.33,306.83 563.83,309.50 557.00,314.00 C550.17,318.50 526.17,345.00 520.00,330.00 C513.83,315.00 520.00,241.67 520.00,224.00 Z" fill="#f8f8f8" /><path d="M561.00,147.00 C563.83,146.67 574.17,144.17 578.00,145.00 C581.83,145.83 583.00,148.50 584.00,152.00 C585.00,155.50 585.33,162.83 584.00,166.00 C582.67,169.17 579.50,170.67 576.00,171.00 C572.50,171.33 565.50,172.00 563.00,168.00 C560.50,164.00 561.33,150.50 561.00,147.00 Z" fill="#bababa" /><path d="M518.00,207.00 C523.00,207.00 540.00,207.67 548.00,207.00 C556.00,206.33 562.50,205.17 566.00,203.00 C569.50,200.83 571.67,195.67 569.00,194.00 C566.33,192.33 558.50,193.00 550.00,193.00 C541.50,193.00 523.33,191.67 518.00,194.00 C512.67,196.33 518.00,204.83 518.00,207.00 Z" fill="#8a8a8a" /><path d="M518.00,158.00 C523.00,158.00 540.67,157.33 548.00,158.00 C555.33,158.67 558.50,159.00 562.00,162.00 C565.50,165.00 568.00,171.33 569.00,176.00 C570.00,180.67 571.17,187.00 568.00,190.00 C564.83,193.00 558.33,193.17 550.00,194.00 C541.67,194.83 523.33,201.00 518.00,195.00 C512.67,189.00 518.00,164.17 518.00,158.00 Z" fill="#676767" /><path d="M518.00,162.00 C521.67,162.00 535.50,159.33 540.00,162.00 C544.50,164.67 545.33,173.33 545.00,178.00 C544.67,182.67 542.50,187.83 538.00,190.00 C533.50,192.17 521.33,195.67 518.00,191.00 C514.67,186.33 518.00,166.83 518.00,162.00 Z" fill="#5e5e5e" /><path d="M554.00,129.00 C557.00,129.17 566.00,129.50 572.00,130.00 C578.00,130.50 586.00,130.00 590.00,132.00 C594.00,134.00 596.00,138.83 596.00,142.00 C596.00,145.17 593.67,149.83 590.00,151.00 C586.33,152.17 578.83,150.33 574.00,149.00 C569.17,147.67 564.33,146.33 561.00,143.00 C557.67,139.67 555.17,131.33 554.00,129.00 Z" fill="#484848" /><path d="M583.00,133.00 C585.83,132.33 594.17,129.33 600.00,129.00 C605.83,128.67 613.33,129.17 618.00,131.00 C622.67,132.83 626.50,135.17 628.00,140.00 C629.50,144.83 628.33,154.67 627.00,160.00 C625.67,165.33 623.67,169.00 620.00,172.00 C616.33,175.00 610.00,177.33 605.00,178.00 C600.00,178.67 593.33,179.00 590.00,176.00 C586.67,173.00 586.17,167.17 585.00,160.00 C583.83,152.83 583.33,137.50 583.00,133.00 Z" fill="#4a4a4a" /><ellipse cx="616" cy="146" rx="6" ry="8" fill="#6e6e6e"/><path d="M587.00,176.00 C590.83,176.33 604.17,176.33 610.00,178.00 C615.83,179.67 619.33,180.67 622.00,186.00 C624.67,191.33 624.83,202.00 626.00,210.00 C627.17,218.00 629.17,227.17 629.00,234.00 C628.83,240.83 627.67,247.00 625.00,251.00 C622.33,255.00 616.83,256.67 613.00,258.00 C609.17,259.33 604.83,262.67 602.00,259.00 C599.17,255.33 597.83,244.83 596.00,236.00 C594.17,227.17 592.50,216.00 591.00,206.00 C589.50,196.00 587.67,181.00 587.00,176.00 Z" fill="#868686" /></g><g filter="url(#bl5)"><path d="M569.00,262.00 C571.50,261.33 578.83,258.67 584.00,258.00 C589.17,257.33 595.00,258.67 600.00,258.00 C605.00,257.33 613.00,252.67 614.00,254.00 C615.00,255.33 609.67,261.83 606.00,266.00 C602.33,270.17 596.67,274.50 592.00,279.00 C587.33,283.50 582.33,288.17 578.00,293.00 C573.67,297.83 569.17,304.17 566.00,308.00 C562.83,311.83 560.33,316.33 559.00,316.00 C557.67,315.67 557.17,309.33 558.00,306.00 C558.83,302.67 562.17,300.00 564.00,296.00 C565.83,292.00 568.17,287.67 569.00,282.00 C569.83,276.33 569.00,265.33 569.00,262.00 Z" fill="#8c8c8c" /></g><g filter="url(#bl4)"><path d="M558.00,324.00 C558.83,321.83 560.67,315.50 563.00,311.00 C565.33,306.50 568.50,301.50 572.00,297.00 C575.50,292.50 580.00,288.00 584.00,284.00 C588.00,280.00 592.17,276.67 596.00,273.00 C599.83,269.33 603.00,265.33 607.00,262.00 C611.00,258.67 614.50,255.67 620.00,253.00 C625.50,250.33 633.33,247.67 640.00,246.00 C646.67,244.33 653.00,243.17 660.00,243.00 C667.00,242.83 675.33,243.83 682.00,245.00 C688.67,246.17 697.00,235.83 700.00,250.00 C703.00,264.17 723.67,316.67 700.00,330.00 C676.33,343.33 581.67,331.00 558.00,330.00 C534.33,329.00 558.00,325.00 558.00,324.00 Z" fill="#232323" /></g><g filter="url(#bl1)"><path d="M671.50,117.00 C671.48,119.47 671.78,126.87 671.40,131.80 C671.02,136.73 670.55,142.65 669.20,146.60 C667.85,150.55 665.77,152.77 663.30,155.50 C660.83,158.23 658.12,160.77 654.40,163.00 C650.68,165.23 645.70,167.55 641.00,168.90 C636.30,170.25 629.90,171.10 626.20,171.10 C622.50,171.10 620.03,169.27 618.80,168.90" fill="none" stroke="#5e5e5e" stroke-width="2.4" /><path d="M624.00,154.00 C625.83,155.00 631.50,158.00 635.00,160.00 C638.50,162.00 643.33,165.00 645.00,166.00" fill="none" stroke="#6a6a6a" stroke-width="1.0" /><path d="M531.00,155.50 C533.33,155.53 539.83,155.53 545.00,155.70 C550.17,155.87 559.17,156.37 562.00,156.50" fill="none" stroke="#444" stroke-width="3.6" /><ellipse cx="535" cy="171.5" rx="2.5" ry="3" fill="#1e1e1e"/><path d="M533.00,194.00 C535.50,193.92 543.50,194.00 548.00,193.50 C552.50,193.00 556.67,192.25 560.00,191.00 C563.33,189.75 566.67,186.83 568.00,186.00" fill="none" stroke="#505050" stroke-width="1.2" /><path d="M545.00,160.00 C547.50,161.67 556.67,165.00 560.00,170.00 C563.33,175.00 564.17,186.67 565.00,190.00" fill="none" stroke="#5a5a5a" stroke-width="1.0" /><path d="M533.00,176.00 C534.17,176.67 537.50,179.67 540.00,180.00 C542.50,180.33 546.67,178.33 548.00,178.00" fill="none" stroke="#8a8a8a" stroke-width="1.4" /><path d="M531.00,133.00 C532.50,132.92 536.83,132.33 540.00,132.50 C543.17,132.67 546.83,133.58 550.00,134.00 C553.17,134.42 557.50,134.83 559.00,135.00" fill="none" stroke="#6e6e6e" stroke-width="3.2" /><path d="M536.00,117.00 C536.67,118.83 539.67,124.17 540.00,128.00 C540.33,131.83 537.67,136.00 538.00,140.00 C538.33,144.00 541.33,150.00 542.00,152.00" fill="none" stroke="#8a8a8a" stroke-width="1.0" /><path d="M548.00,118.00 C548.67,120.00 550.67,125.50 552.00,130.00 C553.33,134.50 555.33,142.50 556.00,145.00" fill="none" stroke="#888" stroke-width="0.9" /><path d="M536.00,126.00 C537.50,125.33 541.83,121.83 545.00,122.00 C548.17,122.17 552.67,124.33 555.00,127.00 C557.33,129.67 559.50,134.67 559.00,138.00 C558.50,141.33 555.17,145.67 552.00,147.00 C548.83,148.33 542.83,147.67 540.00,146.00 C537.17,144.33 535.83,138.50 535.00,137.00" fill="none" stroke="#7a7a7a" stroke-width="0.9" /><path d="M533.00,140.00 C534.17,138.83 537.50,133.33 540.00,133.00 C542.50,132.67 546.67,137.17 548.00,138.00" fill="none" stroke="#7e7e7e" stroke-width="0.8" /><path d="M538.00,119.00 C539.67,120.00 545.00,124.67 548.00,125.00 C551.00,125.33 554.67,121.67 556.00,121.00" fill="none" stroke="#7a7a7a" stroke-width="0.8" /><path d="M560.00,131.00 C564.17,132.00 577.33,135.33 585.00,137.00 C592.67,138.67 602.50,140.33 606.00,141.00" fill="none" stroke="#3c3c3c" stroke-width="0.7" /><path d="M563.00,133.00 C567.17,133.92 580.50,136.83 588.00,138.50 C595.50,140.17 604.67,142.25 608.00,143.00" fill="none" stroke="#3c3c3c" stroke-width="0.7" /><path d="M566.00,135.00 C570.17,135.83 583.67,138.33 591.00,140.00 C598.33,141.67 606.83,144.17 610.00,145.00" fill="none" stroke="#3c3c3c" stroke-width="0.7" /><path d="M569.00,137.00 C573.17,137.75 586.83,139.83 594.00,141.50 C601.17,143.17 609.00,146.08 612.00,147.00" fill="none" stroke="#3c3c3c" stroke-width="0.7" /><rect x="592.5" y="198.5" width="12" height="8.5" fill="#8e8e8e" stroke="#6c6c6c" stroke-width="0.7" transform="rotate(-25 599 203)"/><rect x="596.5" y="212.5" width="12" height="8.5" fill="#8e8e8e" stroke="#6c6c6c" stroke-width="0.7" transform="rotate(-25 603 217)"/><rect x="600.5" y="226.5" width="12" height="8.5" fill="#8e8e8e" stroke="#6c6c6c" stroke-width="0.7" transform="rotate(-25 607 231)"/><rect x="604.5" y="240.5" width="12" height="8.5" fill="#8e8e8e" stroke="#6c6c6c" stroke-width="0.7" transform="rotate(-25 611 245)"/><path d="M614,196 l10,3 l1,4 l-10,-1 z" fill="#979797" stroke="#7c7c7c" stroke-width="0.6"/><path d="M618,210 l10,3 l1,4 l-10,-1 z" fill="#979797" stroke="#7c7c7c" stroke-width="0.6"/><path d="M622,224 l10,3 l1,4 l-10,-1 z" fill="#979797" stroke="#7c7c7c" stroke-width="0.6"/><path d="M625,238 l10,3 l1,4 l-10,-1 z" fill="#979797" stroke="#7c7c7c" stroke-width="0.6"/><path d="M608,174 l8,-3 l3,5 l-8,3 z" fill="#8a8a8a" stroke="#5a5a5a" stroke-width="0.8"/><rect x="559" y="216" width="5" height="5" fill="none" stroke="#7a7a7a" stroke-width="0.8" transform="rotate(-20 561.5 218.5)"/></g><rect x="531.4" y="117.0" width="151.60000000000002" height="1.2" fill="#5a5a5a"/></g><text x="673.6" y="129.7" font-family="Liberation Sans" font-weight="bold" font-size="10.6" fill="#111">L</text><text x="672.2" y="140.8" font-family="Liberation Mono" font-weight="bold" font-size="6" fill="#222">lat</text><rect x="585.6" y="114.6" width="7" height="0.9" fill="#666"/><text x="529.00" y="110.80" font-size="15" text-anchor="start" fill="#222" font-family="Liberation Serif" font-weight="normal" >e</text><g stroke="#6fe6b2" stroke-width="1.0" fill="none"><line x1="590.4" y1="179.3" x2="600.7" y2="191.9"/><line x1="600.0" y1="178.1" x2="587.4" y2="194.4"/><line x1="595.2" y1="184.8" x2="595.2" y2="290.6"/><line x1="616.9" y1="252.0" x2="616.9" y2="290.6"/><line x1="614.4" y1="254.4" x2="619.4" y2="254.4"/><line x1="595.6" y1="281.4" x2="616.5" y2="281.4"/><line x1="588.8" y1="179.3" x2="592.0" y2="179.3"/><line x1="590.4" y1="177.70000000000002" x2="590.4" y2="180.9"/><line x1="598.4" y1="178.1" x2="601.6" y2="178.1"/><line x1="600.0" y1="176.5" x2="600.0" y2="179.7"/><line x1="585.8" y1="194.4" x2="589.0" y2="194.4"/><line x1="587.4" y1="192.8" x2="587.4" y2="196.0"/><line x1="599.1" y1="191.9" x2="602.3000000000001" y2="191.9"/><line x1="600.7" y1="190.3" x2="600.7" y2="193.5"/></g><path d="M595.6,281.4 L599.2,279.6 L599.2,283.2 Z M616.5,281.4 L612.9,279.6 L612.9,283.2 Z" fill="#6fe6b2"/>
</svg></body></html>
